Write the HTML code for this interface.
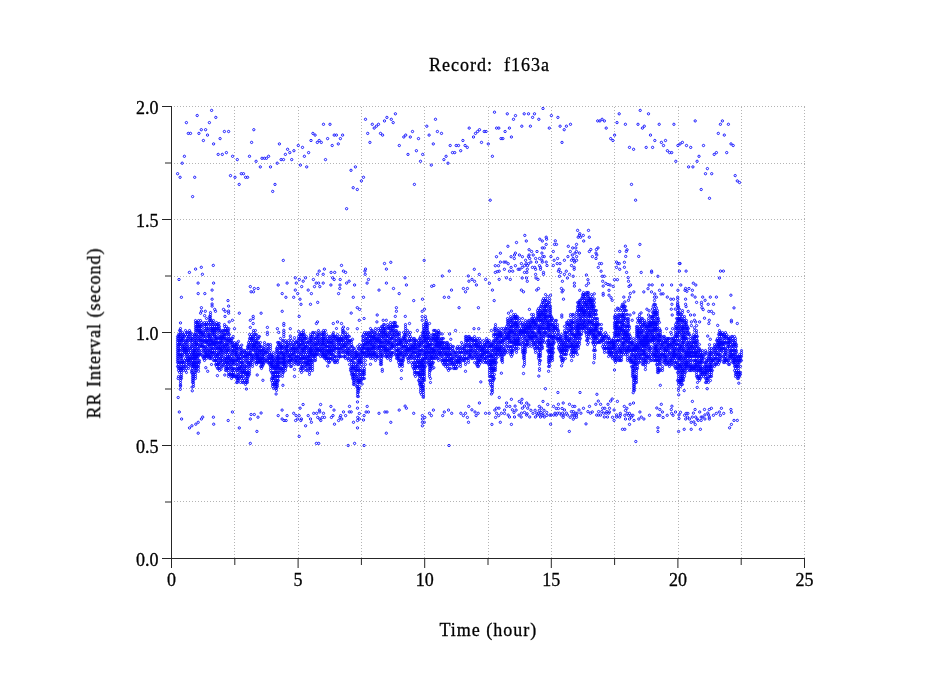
<!DOCTYPE html>
<html><head><meta charset="utf-8"><style>
html,body{margin:0;padding:0;background:#fff;width:949px;height:697px;overflow:hidden}
svg{display:block}
</style></head><body>
<svg width="949" height="697" viewBox="0 0 949 697" shape-rendering="crispEdges">
<rect width="949" height="697" fill="#fff"/>
<defs><pattern id="pv" patternUnits="userSpaceOnUse" x="0" y="2" width="1" height="3"><rect width="1" height="1" fill="#b4b4b4"/></pattern><pattern id="ph" patternUnits="userSpaceOnUse" x="0" y="0" width="3" height="1"><rect width="1" height="1" fill="#b4b4b4"/></pattern></defs><rect x="234" y="107" width="1" height="451" fill="url(#pv)"/><rect x="298" y="107" width="1" height="451" fill="url(#pv)"/><rect x="361" y="107" width="1" height="451" fill="url(#pv)"/><rect x="424" y="107" width="1" height="451" fill="url(#pv)"/><rect x="488" y="107" width="1" height="451" fill="url(#pv)"/><rect x="551" y="107" width="1" height="451" fill="url(#pv)"/><rect x="614" y="107" width="1" height="451" fill="url(#pv)"/><rect x="678" y="107" width="1" height="451" fill="url(#pv)"/><rect x="741" y="107" width="1" height="451" fill="url(#pv)"/><rect x="804" y="107" width="1" height="451" fill="url(#pv)"/><rect x="174" y="501" width="632" height="1" fill="url(#ph)"/><rect x="174" y="445" width="632" height="1" fill="url(#ph)"/><rect x="174" y="388" width="632" height="1" fill="url(#ph)"/><rect x="174" y="332" width="632" height="1" fill="url(#ph)"/><rect x="174" y="276" width="632" height="1" fill="url(#ph)"/><rect x="174" y="219" width="632" height="1" fill="url(#ph)"/><rect x="174" y="163" width="632" height="1" fill="url(#ph)"/><rect x="174" y="106" width="632" height="1" fill="url(#ph)"/>
<g fill="#262626"><rect x="171" y="106" width="1" height="462"/><rect x="162" y="558" width="643" height="1"/></g><path shape-rendering="auto" stroke="#262626" stroke-width="1" fill="none" d="M234.80 559v6M298.10 559v9M361.40 559v6M424.70 559v9M488.00 559v6M551.30 559v9M614.60 559v6M677.90 559v9M741.20 559v6M804.50 559v9M171 502.00h-6M171 445.50h-9M171 389.00h-6M171 332.50h-9M171 276.00h-6M171 219.50h-9M171 163.00h-6M171 106.50h-9"/>
<g shape-rendering="auto"><defs><marker id="m" markerUnits="userSpaceOnUse" markerWidth="8" markerHeight="8" refX="4" refY="4" overflow="visible"><circle cx="4" cy="4" r="1.15" fill="none" stroke="#1a1aff" stroke-width="1.0"/></marker><marker id="q" markerUnits="userSpaceOnUse" markerWidth="8" markerHeight="8" refX="4" refY="4" overflow="visible"><circle cx="4" cy="4" r="1.05" fill="none" stroke="#0000ff" stroke-width="0.9"/></marker></defs><path fill="none" stroke="none" marker-start="url(#q)" marker-mid="url(#q)" marker-end="url(#q)" d="M177.5 336.5 177.5 338.5 177.5 340.5 177.5 342.5 177.5 344.5 177.5 346.5 177.5 348.5 177.5 350.5 177.5 352.5 177.5 354.5 177.5 356.5 177.5 358.5 177.5 360.5 177.5 362.5 177.5 366.5 178.5 334.5 178.5 336.5 178.5 338.5 178.5 340.5 178.5 344.5 178.5 346.5 178.5 348.5 178.5 350.5 178.5 352.5 178.5 354.5 178.5 356.5 178.5 358.5 178.5 360.5 178.5 362.5 178.5 364.5 178.5 366.5 178.5 368.5 178.5 370.5 178.5 376.5 179.5 330.5 179.5 334.5 179.5 336.5 179.5 340.5 179.5 342.5 179.5 344.5 179.5 350.5 179.5 354.5 179.5 362.5 179.5 368.5 179.5 372.5 180.5 328.5 180.5 330.5 180.5 332.5 180.5 334.5 180.5 336.5 180.5 338.5 180.5 340.5 180.5 342.5 180.5 344.5 180.5 346.5 180.5 348.5 180.5 350.5 180.5 354.5 180.5 356.5 180.5 358.5 180.5 362.5 180.5 366.5 180.5 368.5 180.5 370.5 180.5 376.5 180.5 378.5 180.5 380.5 180.5 382.5 180.5 384.5 180.5 386.5 181.5 338.5 181.5 340.5 181.5 344.5 181.5 354.5 181.5 356.5 181.5 358.5 181.5 360.5 181.5 362.5 181.5 364.5 181.5 366.5 181.5 368.5 181.5 370.5 181.5 372.5 181.5 374.5 181.5 376.5 181.5 378.5 182.5 332.5 182.5 334.5 182.5 336.5 182.5 338.5 182.5 340.5 182.5 346.5 182.5 348.5 182.5 350.5 182.5 352.5 182.5 354.5 182.5 356.5 182.5 360.5 182.5 362.5 182.5 368.5 183.5 334.5 183.5 336.5 183.5 338.5 183.5 340.5 183.5 342.5 183.5 344.5 183.5 346.5 183.5 348.5 183.5 350.5 183.5 362.5 183.5 364.5 183.5 366.5 183.5 368.5 183.5 370.5 184.5 336.5 184.5 344.5 184.5 346.5 184.5 348.5 184.5 350.5 184.5 352.5 184.5 354.5 184.5 360.5 184.5 362.5 184.5 366.5 185.5 330.5 185.5 334.5 185.5 340.5 185.5 342.5 185.5 348.5 185.5 350.5 185.5 352.5 185.5 358.5 185.5 366.5 185.5 370.5 186.5 332.5 186.5 336.5 186.5 340.5 186.5 342.5 186.5 344.5 186.5 346.5 186.5 348.5 186.5 350.5 186.5 352.5 186.5 354.5 186.5 356.5 186.5 360.5 186.5 362.5 186.5 364.5 186.5 368.5 186.5 372.5 187.5 332.5 187.5 334.5 187.5 338.5 187.5 340.5 187.5 344.5 187.5 346.5 187.5 348.5 187.5 350.5 187.5 354.5 187.5 356.5 187.5 358.5 187.5 360.5 188.5 336.5 188.5 338.5 188.5 340.5 188.5 350.5 188.5 352.5 188.5 358.5 188.5 360.5 188.5 362.5 188.5 364.5 188.5 366.5 188.5 368.5 189.5 330.5 189.5 332.5 189.5 334.5 189.5 336.5 189.5 342.5 189.5 346.5 189.5 348.5 189.5 354.5 189.5 356.5 189.5 358.5 189.5 360.5 189.5 362.5 189.5 364.5 190.5 332.5 190.5 334.5 190.5 338.5 190.5 340.5 190.5 348.5 190.5 350.5 190.5 352.5 190.5 356.5 190.5 358.5 190.5 360.5 191.5 338.5 191.5 340.5 191.5 344.5 191.5 346.5 191.5 354.5 191.5 358.5 191.5 362.5 191.5 364.5 191.5 366.5 191.5 370.5 191.5 372.5 192.5 334.5 192.5 336.5 192.5 338.5 192.5 340.5 192.5 342.5 192.5 344.5 192.5 346.5 192.5 348.5 192.5 350.5 192.5 352.5 192.5 354.5 192.5 356.5 192.5 358.5 192.5 360.5 192.5 362.5 192.5 364.5 192.5 366.5 192.5 368.5 192.5 370.5 192.5 372.5 192.5 374.5 192.5 376.5 192.5 378.5 192.5 380.5 192.5 382.5 193.5 350.5 193.5 352.5 193.5 354.5 193.5 356.5 193.5 358.5 193.5 362.5 193.5 364.5 193.5 366.5 193.5 374.5 193.5 376.5 193.5 378.5 193.5 380.5 193.5 382.5 193.5 384.5 193.5 386.5 194.5 334.5 194.5 336.5 194.5 338.5 194.5 340.5 194.5 342.5 194.5 344.5 194.5 346.5 194.5 348.5 194.5 350.5 194.5 352.5 194.5 354.5 194.5 356.5 194.5 358.5 194.5 360.5 194.5 362.5 194.5 364.5 194.5 366.5 194.5 368.5 194.5 372.5 195.5 320.5 195.5 322.5 195.5 324.5 195.5 326.5 195.5 328.5 195.5 330.5 195.5 332.5 195.5 334.5 195.5 336.5 195.5 338.5 195.5 340.5 195.5 342.5 195.5 344.5 195.5 346.5 195.5 348.5 195.5 350.5 195.5 352.5 195.5 354.5 195.5 356.5 195.5 358.5 195.5 360.5 195.5 362.5 195.5 364.5 195.5 366.5 195.5 368.5 195.5 370.5 195.5 372.5 195.5 374.5 195.5 376.5 195.5 378.5 196.5 322.5 196.5 326.5 196.5 328.5 196.5 330.5 196.5 334.5 196.5 340.5 196.5 342.5 196.5 344.5 196.5 350.5 196.5 354.5 196.5 356.5 196.5 358.5 196.5 362.5 196.5 364.5 196.5 366.5 196.5 368.5 196.5 370.5 197.5 322.5 197.5 324.5 197.5 326.5 197.5 330.5 197.5 336.5 197.5 338.5 197.5 344.5 197.5 346.5 197.5 348.5 197.5 352.5 197.5 354.5 197.5 356.5 197.5 358.5 197.5 362.5 197.5 366.5 198.5 320.5 198.5 322.5 198.5 324.5 198.5 326.5 198.5 328.5 198.5 330.5 198.5 332.5 198.5 334.5 198.5 336.5 198.5 338.5 198.5 340.5 198.5 342.5 198.5 344.5 198.5 348.5 198.5 350.5 198.5 352.5 198.5 354.5 198.5 356.5 198.5 360.5 198.5 362.5 198.5 364.5 198.5 366.5 198.5 368.5 199.5 324.5 199.5 326.5 199.5 328.5 199.5 330.5 199.5 332.5 199.5 340.5 199.5 346.5 199.5 350.5 199.5 354.5 199.5 360.5 199.5 362.5 200.5 320.5 200.5 326.5 200.5 330.5 200.5 332.5 200.5 334.5 200.5 336.5 200.5 338.5 200.5 340.5 200.5 344.5 200.5 346.5 200.5 354.5 201.5 322.5 201.5 324.5 201.5 326.5 201.5 328.5 201.5 330.5 201.5 332.5 201.5 334.5 201.5 336.5 201.5 338.5 201.5 340.5 201.5 342.5 201.5 344.5 201.5 346.5 201.5 350.5 201.5 352.5 201.5 354.5 202.5 324.5 202.5 332.5 202.5 334.5 202.5 340.5 202.5 342.5 202.5 344.5 202.5 346.5 202.5 356.5 203.5 332.5 203.5 334.5 203.5 336.5 203.5 340.5 203.5 346.5 203.5 348.5 203.5 350.5 203.5 356.5 203.5 358.5 204.5 322.5 204.5 324.5 204.5 326.5 204.5 328.5 204.5 330.5 204.5 334.5 204.5 336.5 204.5 338.5 204.5 340.5 204.5 342.5 204.5 346.5 204.5 348.5 204.5 350.5 204.5 352.5 204.5 354.5 204.5 356.5 204.5 358.5 204.5 360.5 205.5 324.5 205.5 330.5 205.5 332.5 205.5 336.5 205.5 340.5 205.5 342.5 205.5 346.5 205.5 350.5 205.5 352.5 205.5 354.5 205.5 356.5 206.5 318.5 206.5 322.5 206.5 324.5 206.5 326.5 206.5 328.5 206.5 340.5 206.5 342.5 206.5 348.5 206.5 352.5 206.5 354.5 206.5 356.5 206.5 358.5 207.5 324.5 207.5 328.5 207.5 330.5 207.5 332.5 207.5 334.5 207.5 336.5 207.5 338.5 207.5 340.5 207.5 342.5 207.5 344.5 207.5 346.5 207.5 348.5 207.5 350.5 207.5 352.5 207.5 354.5 207.5 356.5 208.5 322.5 208.5 328.5 208.5 330.5 208.5 334.5 208.5 336.5 208.5 340.5 208.5 342.5 208.5 344.5 208.5 350.5 208.5 354.5 208.5 356.5 209.5 316.5 209.5 318.5 209.5 320.5 209.5 324.5 209.5 334.5 209.5 336.5 209.5 338.5 209.5 340.5 209.5 344.5 209.5 346.5 209.5 350.5 209.5 352.5 209.5 354.5 209.5 356.5 209.5 358.5 210.5 312.5 210.5 314.5 210.5 316.5 210.5 318.5 210.5 320.5 210.5 322.5 210.5 324.5 210.5 326.5 210.5 328.5 210.5 330.5 210.5 332.5 210.5 334.5 210.5 336.5 210.5 338.5 210.5 340.5 210.5 342.5 210.5 344.5 210.5 346.5 210.5 348.5 210.5 350.5 210.5 352.5 210.5 354.5 210.5 356.5 210.5 358.5 211.5 320.5 211.5 328.5 211.5 330.5 211.5 338.5 211.5 340.5 211.5 342.5 211.5 344.5 211.5 348.5 211.5 352.5 211.5 356.5 211.5 358.5 211.5 364.5 212.5 322.5 212.5 324.5 212.5 326.5 212.5 328.5 212.5 330.5 212.5 332.5 212.5 334.5 212.5 336.5 212.5 340.5 212.5 342.5 212.5 344.5 212.5 348.5 212.5 350.5 212.5 352.5 212.5 354.5 213.5 320.5 213.5 322.5 213.5 324.5 213.5 328.5 213.5 330.5 213.5 332.5 213.5 334.5 213.5 340.5 213.5 342.5 213.5 344.5 213.5 346.5 213.5 348.5 213.5 352.5 213.5 354.5 213.5 356.5 213.5 360.5 214.5 326.5 214.5 328.5 214.5 330.5 214.5 332.5 214.5 334.5 214.5 336.5 214.5 338.5 214.5 342.5 214.5 344.5 214.5 350.5 214.5 352.5 214.5 358.5 214.5 360.5 215.5 324.5 215.5 328.5 215.5 330.5 215.5 336.5 215.5 338.5 215.5 340.5 215.5 342.5 215.5 344.5 215.5 346.5 215.5 348.5 215.5 354.5 215.5 356.5 215.5 360.5 215.5 364.5 216.5 322.5 216.5 324.5 216.5 326.5 216.5 328.5 216.5 330.5 216.5 332.5 216.5 334.5 216.5 336.5 216.5 338.5 216.5 340.5 216.5 342.5 216.5 344.5 216.5 346.5 216.5 348.5 216.5 350.5 216.5 352.5 216.5 354.5 216.5 356.5 216.5 358.5 216.5 360.5 216.5 362.5 216.5 364.5 216.5 366.5 217.5 324.5 217.5 328.5 217.5 338.5 217.5 342.5 217.5 348.5 217.5 354.5 217.5 356.5 217.5 360.5 217.5 364.5 217.5 368.5 218.5 324.5 218.5 326.5 218.5 328.5 218.5 330.5 218.5 338.5 218.5 342.5 218.5 344.5 218.5 346.5 218.5 348.5 218.5 352.5 218.5 354.5 218.5 358.5 218.5 362.5 218.5 364.5 218.5 368.5 219.5 326.5 219.5 328.5 219.5 330.5 219.5 332.5 219.5 334.5 219.5 336.5 219.5 338.5 219.5 342.5 219.5 344.5 219.5 346.5 219.5 348.5 219.5 350.5 219.5 352.5 219.5 354.5 219.5 356.5 219.5 358.5 219.5 362.5 219.5 364.5 219.5 366.5 219.5 368.5 219.5 370.5 220.5 330.5 220.5 336.5 220.5 338.5 220.5 340.5 220.5 342.5 220.5 346.5 220.5 348.5 220.5 350.5 220.5 352.5 220.5 358.5 220.5 360.5 220.5 362.5 221.5 332.5 221.5 336.5 221.5 338.5 221.5 340.5 221.5 342.5 221.5 344.5 221.5 348.5 221.5 350.5 221.5 354.5 221.5 356.5 221.5 360.5 221.5 366.5 222.5 330.5 222.5 332.5 222.5 334.5 222.5 336.5 222.5 338.5 222.5 340.5 222.5 342.5 222.5 344.5 222.5 346.5 222.5 348.5 222.5 350.5 222.5 352.5 222.5 354.5 222.5 356.5 222.5 358.5 222.5 360.5 222.5 362.5 222.5 364.5 222.5 366.5 223.5 330.5 223.5 334.5 223.5 336.5 223.5 338.5 223.5 346.5 223.5 350.5 223.5 352.5 223.5 364.5 224.5 324.5 224.5 326.5 224.5 330.5 224.5 334.5 224.5 336.5 224.5 338.5 224.5 342.5 224.5 344.5 224.5 346.5 224.5 348.5 224.5 358.5 224.5 360.5 224.5 362.5 225.5 328.5 225.5 330.5 225.5 332.5 225.5 334.5 225.5 338.5 225.5 340.5 225.5 344.5 225.5 346.5 225.5 348.5 225.5 350.5 225.5 352.5 225.5 354.5 225.5 356.5 225.5 358.5 225.5 360.5 225.5 362.5 225.5 364.5 225.5 366.5 225.5 368.5 225.5 370.5 226.5 326.5 226.5 330.5 226.5 334.5 226.5 338.5 226.5 340.5 226.5 344.5 226.5 348.5 226.5 350.5 226.5 352.5 226.5 358.5 226.5 360.5 226.5 362.5 226.5 366.5 226.5 368.5 226.5 370.5 227.5 328.5 227.5 330.5 227.5 332.5 227.5 340.5 227.5 342.5 227.5 344.5 227.5 346.5 227.5 350.5 227.5 354.5 227.5 356.5 227.5 358.5 227.5 362.5 227.5 364.5 227.5 368.5 228.5 330.5 228.5 332.5 228.5 334.5 228.5 336.5 228.5 338.5 228.5 340.5 228.5 342.5 228.5 344.5 228.5 346.5 228.5 348.5 228.5 350.5 228.5 352.5 228.5 356.5 228.5 358.5 228.5 360.5 228.5 362.5 228.5 364.5 228.5 366.5 228.5 368.5 228.5 370.5 228.5 372.5 228.5 374.5 228.5 376.5 229.5 334.5 229.5 338.5 229.5 340.5 229.5 348.5 229.5 350.5 229.5 354.5 229.5 356.5 229.5 358.5 229.5 360.5 229.5 362.5 229.5 368.5 229.5 374.5 230.5 340.5 230.5 342.5 230.5 358.5 230.5 360.5 230.5 364.5 230.5 366.5 230.5 374.5 231.5 338.5 231.5 340.5 231.5 342.5 231.5 344.5 231.5 346.5 231.5 350.5 231.5 352.5 231.5 354.5 231.5 356.5 231.5 360.5 231.5 362.5 231.5 364.5 231.5 366.5 231.5 368.5 231.5 370.5 231.5 372.5 231.5 374.5 231.5 376.5 231.5 378.5 232.5 338.5 232.5 342.5 232.5 344.5 232.5 346.5 232.5 348.5 232.5 350.5 232.5 352.5 232.5 354.5 232.5 358.5 232.5 360.5 232.5 362.5 232.5 368.5 232.5 370.5 232.5 374.5 232.5 376.5 233.5 346.5 233.5 350.5 233.5 358.5 233.5 360.5 233.5 362.5 233.5 364.5 233.5 368.5 233.5 372.5 233.5 374.5 233.5 376.5 234.5 342.5 234.5 344.5 234.5 346.5 234.5 348.5 234.5 350.5 234.5 352.5 234.5 354.5 234.5 356.5 234.5 360.5 234.5 362.5 234.5 364.5 234.5 368.5 234.5 370.5 234.5 374.5 234.5 376.5 235.5 344.5 235.5 346.5 235.5 348.5 235.5 352.5 235.5 354.5 235.5 360.5 235.5 376.5 236.5 344.5 236.5 346.5 236.5 348.5 236.5 350.5 236.5 352.5 236.5 354.5 236.5 356.5 236.5 358.5 236.5 360.5 236.5 364.5 236.5 368.5 236.5 370.5 236.5 376.5 236.5 378.5 236.5 382.5 237.5 342.5 237.5 344.5 237.5 348.5 237.5 350.5 237.5 352.5 237.5 354.5 237.5 356.5 237.5 358.5 237.5 360.5 237.5 362.5 237.5 364.5 237.5 366.5 237.5 368.5 237.5 370.5 237.5 372.5 237.5 374.5 237.5 376.5 237.5 378.5 237.5 380.5 237.5 382.5 238.5 346.5 238.5 348.5 238.5 356.5 238.5 358.5 238.5 360.5 238.5 368.5 238.5 374.5 238.5 376.5 238.5 378.5 238.5 380.5 239.5 354.5 239.5 358.5 239.5 362.5 239.5 366.5 239.5 368.5 239.5 370.5 239.5 378.5 240.5 346.5 240.5 348.5 240.5 350.5 240.5 352.5 240.5 354.5 240.5 356.5 240.5 358.5 240.5 360.5 240.5 362.5 240.5 364.5 240.5 366.5 240.5 368.5 240.5 370.5 240.5 372.5 240.5 374.5 240.5 376.5 240.5 382.5 241.5 348.5 241.5 350.5 241.5 352.5 241.5 354.5 241.5 358.5 241.5 362.5 241.5 366.5 241.5 368.5 241.5 372.5 241.5 376.5 241.5 378.5 242.5 352.5 242.5 356.5 242.5 362.5 242.5 364.5 242.5 366.5 242.5 370.5 242.5 372.5 242.5 376.5 242.5 380.5 242.5 382.5 243.5 350.5 243.5 354.5 243.5 356.5 243.5 358.5 243.5 360.5 243.5 362.5 243.5 364.5 243.5 368.5 243.5 370.5 243.5 372.5 243.5 374.5 243.5 378.5 243.5 382.5 244.5 350.5 244.5 352.5 244.5 356.5 244.5 366.5 244.5 368.5 244.5 370.5 244.5 372.5 244.5 380.5 245.5 352.5 245.5 354.5 245.5 356.5 245.5 360.5 245.5 366.5 245.5 372.5 245.5 374.5 245.5 376.5 245.5 382.5 245.5 384.5 246.5 350.5 246.5 352.5 246.5 354.5 246.5 356.5 246.5 358.5 246.5 360.5 246.5 362.5 246.5 364.5 246.5 366.5 246.5 368.5 246.5 370.5 246.5 372.5 246.5 374.5 246.5 378.5 246.5 380.5 246.5 382.5 247.5 346.5 247.5 348.5 247.5 354.5 247.5 356.5 247.5 358.5 247.5 362.5 247.5 372.5 247.5 374.5 247.5 376.5 247.5 378.5 247.5 380.5 247.5 382.5 248.5 342.5 248.5 344.5 248.5 346.5 248.5 348.5 248.5 352.5 248.5 354.5 248.5 362.5 248.5 364.5 248.5 366.5 248.5 372.5 248.5 374.5 248.5 376.5 249.5 334.5 249.5 338.5 249.5 340.5 249.5 344.5 249.5 346.5 249.5 348.5 249.5 352.5 249.5 354.5 249.5 356.5 249.5 358.5 249.5 360.5 249.5 362.5 249.5 364.5 249.5 366.5 249.5 368.5 249.5 370.5 249.5 372.5 249.5 374.5 250.5 336.5 250.5 338.5 250.5 342.5 250.5 350.5 250.5 352.5 250.5 354.5 250.5 362.5 250.5 364.5 251.5 334.5 251.5 338.5 251.5 340.5 251.5 344.5 251.5 346.5 251.5 348.5 251.5 350.5 251.5 354.5 251.5 356.5 251.5 358.5 251.5 360.5 252.5 336.5 252.5 338.5 252.5 340.5 252.5 342.5 252.5 344.5 252.5 346.5 252.5 348.5 252.5 354.5 252.5 356.5 252.5 358.5 252.5 360.5 252.5 362.5 252.5 364.5 252.5 366.5 253.5 330.5 253.5 332.5 253.5 336.5 253.5 338.5 253.5 340.5 253.5 344.5 253.5 346.5 253.5 348.5 253.5 350.5 253.5 356.5 253.5 358.5 254.5 334.5 254.5 342.5 254.5 344.5 254.5 346.5 254.5 350.5 254.5 354.5 255.5 330.5 255.5 334.5 255.5 336.5 255.5 338.5 255.5 340.5 255.5 342.5 255.5 344.5 255.5 346.5 255.5 348.5 255.5 350.5 255.5 352.5 255.5 354.5 255.5 356.5 255.5 358.5 255.5 360.5 255.5 362.5 256.5 334.5 256.5 340.5 256.5 342.5 256.5 344.5 256.5 346.5 256.5 348.5 256.5 352.5 256.5 354.5 256.5 356.5 256.5 358.5 256.5 362.5 256.5 364.5 257.5 338.5 257.5 342.5 257.5 348.5 257.5 350.5 257.5 352.5 257.5 354.5 257.5 356.5 257.5 358.5 257.5 360.5 257.5 362.5 258.5 336.5 258.5 338.5 258.5 342.5 258.5 344.5 258.5 346.5 258.5 348.5 258.5 350.5 258.5 354.5 258.5 356.5 258.5 358.5 258.5 360.5 258.5 362.5 259.5 336.5 259.5 344.5 259.5 346.5 259.5 350.5 259.5 352.5 259.5 354.5 259.5 356.5 259.5 358.5 259.5 360.5 259.5 362.5 260.5 342.5 260.5 346.5 260.5 350.5 260.5 352.5 260.5 358.5 260.5 360.5 260.5 362.5 260.5 366.5 261.5 346.5 261.5 348.5 261.5 350.5 261.5 352.5 261.5 354.5 261.5 356.5 261.5 358.5 261.5 360.5 261.5 362.5 261.5 364.5 261.5 366.5 261.5 368.5 262.5 350.5 262.5 354.5 262.5 356.5 262.5 358.5 262.5 360.5 262.5 362.5 262.5 364.5 262.5 366.5 263.5 348.5 263.5 350.5 263.5 352.5 263.5 354.5 263.5 358.5 263.5 362.5 263.5 364.5 264.5 342.5 264.5 344.5 264.5 346.5 264.5 348.5 264.5 350.5 264.5 352.5 264.5 354.5 264.5 356.5 264.5 358.5 264.5 360.5 264.5 362.5 265.5 352.5 265.5 360.5 266.5 350.5 266.5 352.5 266.5 360.5 267.5 344.5 267.5 346.5 267.5 348.5 267.5 350.5 267.5 352.5 267.5 354.5 267.5 356.5 267.5 358.5 267.5 360.5 267.5 362.5 268.5 344.5 268.5 348.5 268.5 356.5 268.5 358.5 268.5 362.5 269.5 352.5 269.5 354.5 269.5 358.5 269.5 360.5 269.5 362.5 269.5 364.5 270.5 344.5 270.5 346.5 270.5 348.5 270.5 350.5 270.5 354.5 270.5 356.5 270.5 358.5 270.5 362.5 270.5 364.5 270.5 366.5 270.5 368.5 270.5 370.5 271.5 354.5 271.5 356.5 271.5 358.5 271.5 360.5 271.5 362.5 271.5 364.5 271.5 366.5 271.5 372.5 271.5 378.5 271.5 380.5 272.5 356.5 272.5 358.5 272.5 360.5 272.5 362.5 272.5 364.5 272.5 366.5 272.5 368.5 272.5 372.5 272.5 374.5 272.5 376.5 272.5 378.5 272.5 382.5 272.5 384.5 272.5 386.5 273.5 352.5 273.5 354.5 273.5 356.5 273.5 358.5 273.5 360.5 273.5 362.5 273.5 364.5 273.5 366.5 273.5 368.5 273.5 372.5 273.5 374.5 273.5 376.5 273.5 378.5 273.5 380.5 273.5 384.5 273.5 388.5 274.5 360.5 274.5 366.5 274.5 368.5 274.5 372.5 274.5 376.5 274.5 378.5 274.5 382.5 274.5 384.5 275.5 358.5 275.5 362.5 275.5 364.5 275.5 366.5 275.5 368.5 275.5 370.5 275.5 372.5 275.5 374.5 275.5 376.5 275.5 380.5 275.5 382.5 275.5 384.5 275.5 386.5 275.5 388.5 276.5 348.5 276.5 350.5 276.5 352.5 276.5 354.5 276.5 356.5 276.5 358.5 276.5 360.5 276.5 362.5 276.5 364.5 276.5 366.5 276.5 368.5 276.5 370.5 276.5 372.5 276.5 376.5 276.5 380.5 276.5 382.5 276.5 384.5 276.5 386.5 276.5 388.5 276.5 390.5 277.5 342.5 277.5 346.5 277.5 348.5 277.5 350.5 277.5 352.5 277.5 356.5 277.5 358.5 277.5 360.5 277.5 362.5 277.5 364.5 277.5 366.5 277.5 368.5 277.5 372.5 277.5 374.5 277.5 376.5 277.5 378.5 277.5 380.5 277.5 382.5 277.5 384.5 277.5 386.5 278.5 342.5 278.5 344.5 278.5 354.5 278.5 356.5 278.5 358.5 278.5 360.5 278.5 362.5 278.5 364.5 278.5 366.5 278.5 368.5 278.5 372.5 278.5 376.5 278.5 380.5 279.5 342.5 279.5 344.5 279.5 346.5 279.5 348.5 279.5 350.5 279.5 352.5 279.5 354.5 279.5 356.5 279.5 358.5 279.5 360.5 279.5 362.5 279.5 364.5 279.5 366.5 279.5 368.5 279.5 370.5 279.5 372.5 279.5 374.5 279.5 376.5 280.5 338.5 280.5 344.5 280.5 346.5 280.5 348.5 280.5 352.5 280.5 358.5 280.5 362.5 280.5 368.5 280.5 370.5 281.5 346.5 281.5 348.5 281.5 352.5 281.5 354.5 281.5 358.5 281.5 362.5 281.5 368.5 282.5 340.5 282.5 342.5 282.5 344.5 282.5 346.5 282.5 348.5 282.5 350.5 282.5 352.5 282.5 354.5 282.5 356.5 282.5 358.5 282.5 360.5 282.5 362.5 282.5 364.5 282.5 366.5 282.5 368.5 282.5 370.5 282.5 372.5 282.5 374.5 282.5 376.5 283.5 340.5 283.5 346.5 283.5 352.5 283.5 354.5 283.5 356.5 283.5 358.5 283.5 360.5 283.5 362.5 283.5 364.5 283.5 368.5 283.5 370.5 283.5 372.5 284.5 348.5 284.5 354.5 284.5 356.5 284.5 358.5 284.5 360.5 284.5 362.5 284.5 364.5 284.5 366.5 285.5 340.5 285.5 342.5 285.5 344.5 285.5 346.5 285.5 348.5 285.5 350.5 285.5 352.5 285.5 354.5 285.5 356.5 285.5 358.5 285.5 360.5 285.5 362.5 285.5 364.5 285.5 366.5 285.5 368.5 285.5 370.5 286.5 342.5 286.5 346.5 286.5 348.5 286.5 350.5 286.5 352.5 286.5 362.5 286.5 366.5 287.5 344.5 287.5 346.5 287.5 350.5 287.5 352.5 287.5 354.5 287.5 356.5 287.5 360.5 288.5 340.5 288.5 342.5 288.5 344.5 288.5 346.5 288.5 348.5 288.5 350.5 288.5 354.5 288.5 356.5 288.5 358.5 288.5 360.5 288.5 362.5 288.5 364.5 289.5 352.5 289.5 356.5 289.5 360.5 289.5 362.5 290.5 338.5 290.5 342.5 290.5 344.5 290.5 348.5 290.5 350.5 290.5 354.5 290.5 356.5 290.5 358.5 290.5 360.5 290.5 366.5 291.5 340.5 291.5 344.5 291.5 346.5 291.5 348.5 291.5 350.5 291.5 352.5 291.5 354.5 291.5 356.5 291.5 358.5 291.5 360.5 291.5 362.5 291.5 364.5 291.5 366.5 292.5 348.5 292.5 354.5 292.5 358.5 292.5 360.5 293.5 342.5 293.5 344.5 293.5 346.5 293.5 348.5 293.5 350.5 293.5 352.5 293.5 354.5 293.5 358.5 294.5 340.5 294.5 344.5 294.5 346.5 294.5 348.5 294.5 350.5 294.5 352.5 294.5 354.5 294.5 356.5 294.5 360.5 294.5 362.5 294.5 364.5 295.5 342.5 295.5 348.5 295.5 350.5 295.5 352.5 295.5 356.5 295.5 358.5 295.5 360.5 295.5 362.5 296.5 342.5 296.5 344.5 296.5 348.5 296.5 356.5 296.5 358.5 296.5 360.5 297.5 340.5 297.5 342.5 297.5 346.5 297.5 348.5 297.5 350.5 297.5 352.5 297.5 356.5 297.5 360.5 297.5 362.5 297.5 364.5 298.5 336.5 298.5 338.5 298.5 340.5 298.5 342.5 298.5 344.5 298.5 346.5 298.5 348.5 298.5 350.5 298.5 352.5 298.5 354.5 298.5 356.5 298.5 358.5 298.5 362.5 298.5 364.5 299.5 334.5 299.5 338.5 299.5 344.5 299.5 346.5 299.5 358.5 299.5 360.5 300.5 334.5 300.5 336.5 300.5 338.5 300.5 340.5 300.5 342.5 300.5 344.5 300.5 346.5 300.5 348.5 300.5 352.5 300.5 354.5 300.5 356.5 300.5 358.5 300.5 360.5 300.5 362.5 300.5 364.5 300.5 368.5 300.5 370.5 301.5 332.5 301.5 334.5 301.5 336.5 301.5 340.5 301.5 344.5 301.5 348.5 301.5 350.5 301.5 352.5 301.5 354.5 301.5 358.5 301.5 362.5 301.5 366.5 301.5 368.5 301.5 372.5 302.5 334.5 302.5 338.5 302.5 340.5 302.5 342.5 302.5 344.5 302.5 348.5 302.5 350.5 302.5 356.5 302.5 358.5 302.5 364.5 302.5 366.5 302.5 368.5 303.5 330.5 303.5 332.5 303.5 334.5 303.5 336.5 303.5 338.5 303.5 340.5 303.5 342.5 303.5 344.5 303.5 346.5 303.5 348.5 303.5 350.5 303.5 352.5 303.5 354.5 303.5 356.5 303.5 358.5 303.5 360.5 303.5 362.5 303.5 366.5 303.5 370.5 304.5 334.5 304.5 336.5 304.5 338.5 304.5 342.5 304.5 346.5 304.5 348.5 304.5 350.5 304.5 352.5 304.5 356.5 304.5 358.5 304.5 362.5 305.5 338.5 305.5 344.5 305.5 346.5 305.5 348.5 305.5 354.5 305.5 358.5 305.5 362.5 305.5 364.5 305.5 366.5 305.5 368.5 306.5 336.5 306.5 338.5 306.5 340.5 306.5 342.5 306.5 346.5 306.5 348.5 306.5 350.5 306.5 352.5 306.5 356.5 306.5 358.5 306.5 360.5 306.5 362.5 306.5 364.5 306.5 366.5 306.5 370.5 307.5 342.5 307.5 344.5 307.5 346.5 307.5 354.5 307.5 356.5 307.5 358.5 307.5 360.5 307.5 362.5 307.5 364.5 307.5 370.5 308.5 342.5 308.5 348.5 308.5 350.5 308.5 352.5 308.5 356.5 308.5 360.5 308.5 362.5 308.5 364.5 308.5 368.5 309.5 338.5 309.5 340.5 309.5 342.5 309.5 346.5 309.5 348.5 309.5 350.5 309.5 352.5 309.5 354.5 309.5 356.5 309.5 358.5 309.5 360.5 309.5 362.5 309.5 364.5 309.5 366.5 309.5 368.5 309.5 372.5 309.5 374.5 310.5 334.5 310.5 336.5 310.5 338.5 310.5 340.5 310.5 344.5 310.5 348.5 310.5 350.5 310.5 352.5 310.5 354.5 310.5 356.5 310.5 358.5 310.5 360.5 310.5 364.5 310.5 366.5 310.5 368.5 310.5 370.5 311.5 336.5 311.5 338.5 311.5 340.5 311.5 342.5 311.5 344.5 311.5 346.5 311.5 348.5 311.5 350.5 311.5 352.5 311.5 354.5 311.5 360.5 311.5 362.5 312.5 332.5 312.5 334.5 312.5 336.5 312.5 340.5 312.5 342.5 312.5 346.5 312.5 348.5 312.5 350.5 312.5 352.5 312.5 354.5 312.5 356.5 312.5 358.5 312.5 360.5 312.5 362.5 312.5 364.5 312.5 366.5 312.5 368.5 312.5 370.5 313.5 332.5 313.5 338.5 313.5 344.5 313.5 350.5 313.5 354.5 313.5 356.5 314.5 334.5 314.5 338.5 314.5 342.5 314.5 344.5 314.5 346.5 314.5 348.5 314.5 352.5 314.5 354.5 314.5 356.5 314.5 360.5 315.5 332.5 315.5 338.5 315.5 340.5 315.5 342.5 315.5 344.5 315.5 346.5 315.5 348.5 315.5 350.5 315.5 352.5 315.5 354.5 315.5 356.5 315.5 358.5 315.5 360.5 316.5 336.5 316.5 338.5 316.5 344.5 316.5 348.5 316.5 350.5 316.5 352.5 316.5 354.5 317.5 334.5 317.5 336.5 317.5 340.5 317.5 342.5 317.5 344.5 317.5 348.5 317.5 350.5 317.5 354.5 318.5 330.5 318.5 332.5 318.5 334.5 318.5 336.5 318.5 338.5 318.5 340.5 318.5 342.5 318.5 344.5 318.5 346.5 318.5 348.5 318.5 350.5 318.5 354.5 319.5 334.5 319.5 338.5 319.5 340.5 319.5 342.5 319.5 348.5 319.5 350.5 319.5 352.5 320.5 344.5 320.5 346.5 320.5 350.5 320.5 356.5 321.5 332.5 321.5 334.5 321.5 336.5 321.5 338.5 321.5 340.5 321.5 342.5 321.5 344.5 321.5 346.5 321.5 348.5 321.5 350.5 321.5 352.5 321.5 354.5 322.5 334.5 322.5 338.5 322.5 340.5 322.5 342.5 322.5 344.5 322.5 348.5 322.5 350.5 322.5 352.5 322.5 354.5 322.5 356.5 323.5 330.5 323.5 332.5 323.5 334.5 323.5 336.5 323.5 338.5 323.5 340.5 323.5 342.5 323.5 344.5 323.5 348.5 323.5 352.5 323.5 354.5 323.5 356.5 324.5 332.5 324.5 334.5 324.5 336.5 324.5 338.5 324.5 340.5 324.5 342.5 324.5 344.5 324.5 346.5 324.5 348.5 324.5 350.5 324.5 352.5 324.5 354.5 324.5 356.5 324.5 358.5 325.5 330.5 325.5 338.5 325.5 344.5 325.5 346.5 325.5 350.5 325.5 354.5 325.5 356.5 325.5 358.5 326.5 334.5 326.5 340.5 326.5 342.5 326.5 346.5 326.5 350.5 326.5 352.5 326.5 354.5 326.5 356.5 326.5 358.5 326.5 360.5 327.5 336.5 327.5 338.5 327.5 340.5 327.5 342.5 327.5 344.5 327.5 346.5 327.5 348.5 327.5 350.5 327.5 352.5 327.5 354.5 327.5 356.5 327.5 358.5 328.5 340.5 328.5 342.5 328.5 346.5 328.5 350.5 328.5 352.5 328.5 358.5 328.5 360.5 328.5 362.5 329.5 336.5 329.5 338.5 329.5 342.5 329.5 346.5 329.5 348.5 329.5 350.5 329.5 352.5 329.5 354.5 329.5 358.5 329.5 362.5 330.5 336.5 330.5 338.5 330.5 340.5 330.5 342.5 330.5 344.5 330.5 346.5 330.5 348.5 330.5 350.5 330.5 352.5 330.5 354.5 330.5 356.5 330.5 358.5 330.5 360.5 331.5 340.5 331.5 342.5 331.5 344.5 331.5 348.5 331.5 350.5 331.5 352.5 331.5 354.5 331.5 358.5 332.5 334.5 332.5 336.5 332.5 338.5 332.5 342.5 332.5 346.5 332.5 350.5 332.5 354.5 332.5 358.5 333.5 332.5 333.5 334.5 333.5 336.5 333.5 338.5 333.5 340.5 333.5 342.5 333.5 344.5 333.5 346.5 333.5 348.5 333.5 350.5 333.5 352.5 333.5 354.5 333.5 356.5 333.5 360.5 334.5 336.5 334.5 340.5 334.5 344.5 334.5 346.5 334.5 348.5 334.5 350.5 334.5 356.5 334.5 358.5 334.5 360.5 334.5 362.5 335.5 336.5 335.5 338.5 335.5 348.5 335.5 356.5 335.5 362.5 336.5 328.5 336.5 336.5 336.5 338.5 336.5 340.5 336.5 342.5 336.5 344.5 336.5 346.5 336.5 348.5 336.5 352.5 336.5 356.5 336.5 360.5 337.5 334.5 337.5 338.5 337.5 340.5 337.5 348.5 337.5 360.5 337.5 362.5 338.5 338.5 338.5 340.5 338.5 342.5 338.5 344.5 338.5 348.5 338.5 350.5 338.5 352.5 338.5 354.5 338.5 356.5 338.5 358.5 339.5 336.5 339.5 338.5 339.5 340.5 339.5 342.5 339.5 344.5 339.5 346.5 339.5 348.5 339.5 350.5 339.5 352.5 339.5 354.5 339.5 356.5 340.5 338.5 340.5 340.5 340.5 344.5 340.5 348.5 340.5 352.5 340.5 356.5 341.5 336.5 341.5 338.5 341.5 340.5 341.5 342.5 341.5 346.5 341.5 348.5 341.5 356.5 342.5 328.5 342.5 330.5 342.5 332.5 342.5 334.5 342.5 338.5 342.5 340.5 342.5 344.5 342.5 346.5 342.5 348.5 342.5 350.5 342.5 352.5 343.5 330.5 343.5 332.5 343.5 338.5 343.5 340.5 343.5 342.5 343.5 344.5 343.5 346.5 343.5 350.5 343.5 352.5 343.5 356.5 344.5 336.5 344.5 344.5 344.5 346.5 344.5 356.5 345.5 332.5 345.5 334.5 345.5 336.5 345.5 338.5 345.5 340.5 345.5 342.5 345.5 344.5 345.5 346.5 345.5 348.5 345.5 350.5 345.5 352.5 345.5 354.5 345.5 356.5 345.5 358.5 346.5 336.5 346.5 338.5 346.5 342.5 346.5 346.5 346.5 350.5 346.5 352.5 347.5 334.5 347.5 338.5 347.5 340.5 347.5 344.5 347.5 348.5 347.5 352.5 347.5 354.5 347.5 358.5 348.5 336.5 348.5 340.5 348.5 342.5 348.5 344.5 348.5 348.5 348.5 350.5 348.5 352.5 348.5 354.5 348.5 358.5 348.5 360.5 349.5 336.5 349.5 340.5 349.5 342.5 349.5 348.5 349.5 350.5 349.5 352.5 349.5 354.5 349.5 356.5 349.5 364.5 350.5 340.5 350.5 346.5 350.5 360.5 350.5 368.5 350.5 370.5 351.5 340.5 351.5 342.5 351.5 344.5 351.5 346.5 351.5 350.5 351.5 352.5 351.5 354.5 351.5 356.5 351.5 358.5 351.5 360.5 351.5 362.5 351.5 364.5 351.5 366.5 351.5 368.5 351.5 370.5 351.5 372.5 351.5 374.5 352.5 346.5 352.5 350.5 352.5 352.5 352.5 354.5 352.5 356.5 352.5 360.5 352.5 366.5 352.5 368.5 352.5 372.5 352.5 374.5 352.5 376.5 352.5 378.5 353.5 348.5 353.5 358.5 353.5 362.5 353.5 364.5 353.5 366.5 353.5 368.5 353.5 374.5 353.5 376.5 353.5 378.5 353.5 380.5 353.5 382.5 353.5 384.5 354.5 348.5 354.5 350.5 354.5 352.5 354.5 354.5 354.5 356.5 354.5 358.5 354.5 362.5 354.5 368.5 354.5 370.5 354.5 372.5 354.5 374.5 354.5 376.5 354.5 378.5 354.5 380.5 354.5 382.5 354.5 384.5 355.5 352.5 355.5 354.5 355.5 356.5 355.5 358.5 355.5 364.5 355.5 366.5 355.5 368.5 355.5 370.5 355.5 374.5 356.5 352.5 356.5 354.5 356.5 356.5 356.5 366.5 356.5 370.5 356.5 376.5 356.5 378.5 356.5 380.5 356.5 386.5 357.5 346.5 357.5 350.5 357.5 352.5 357.5 354.5 357.5 356.5 357.5 358.5 357.5 360.5 357.5 362.5 357.5 364.5 357.5 366.5 357.5 368.5 357.5 370.5 357.5 372.5 357.5 374.5 357.5 376.5 357.5 378.5 357.5 380.5 357.5 382.5 357.5 384.5 357.5 386.5 357.5 388.5 357.5 390.5 357.5 392.5 357.5 394.5 357.5 396.5 358.5 348.5 358.5 354.5 358.5 356.5 358.5 360.5 358.5 362.5 358.5 364.5 358.5 368.5 358.5 370.5 358.5 380.5 358.5 382.5 358.5 388.5 358.5 390.5 358.5 392.5 358.5 396.5 359.5 344.5 359.5 348.5 359.5 354.5 359.5 358.5 359.5 360.5 359.5 362.5 359.5 370.5 359.5 374.5 359.5 378.5 359.5 380.5 359.5 382.5 359.5 386.5 359.5 388.5 360.5 346.5 360.5 350.5 360.5 352.5 360.5 354.5 360.5 356.5 360.5 358.5 360.5 360.5 360.5 362.5 360.5 366.5 360.5 368.5 360.5 370.5 360.5 372.5 360.5 374.5 360.5 376.5 360.5 378.5 360.5 380.5 360.5 382.5 361.5 348.5 361.5 350.5 361.5 352.5 361.5 356.5 361.5 358.5 361.5 360.5 361.5 362.5 361.5 364.5 361.5 380.5 362.5 336.5 362.5 340.5 362.5 344.5 362.5 346.5 362.5 348.5 362.5 350.5 362.5 352.5 362.5 354.5 362.5 370.5 362.5 372.5 362.5 374.5 362.5 376.5 362.5 378.5 363.5 334.5 363.5 336.5 363.5 338.5 363.5 340.5 363.5 342.5 363.5 344.5 363.5 346.5 363.5 348.5 363.5 352.5 363.5 354.5 363.5 356.5 363.5 358.5 363.5 362.5 363.5 366.5 363.5 370.5 363.5 372.5 363.5 374.5 363.5 378.5 364.5 332.5 364.5 344.5 364.5 346.5 364.5 348.5 364.5 352.5 364.5 354.5 364.5 368.5 364.5 370.5 364.5 372.5 364.5 374.5 364.5 378.5 365.5 334.5 365.5 338.5 365.5 340.5 365.5 342.5 365.5 344.5 365.5 348.5 365.5 352.5 365.5 356.5 365.5 360.5 365.5 364.5 366.5 332.5 366.5 334.5 366.5 336.5 366.5 338.5 366.5 340.5 366.5 342.5 366.5 344.5 366.5 348.5 366.5 350.5 366.5 352.5 366.5 354.5 366.5 356.5 367.5 334.5 367.5 338.5 367.5 342.5 367.5 344.5 367.5 346.5 367.5 348.5 367.5 350.5 367.5 354.5 367.5 356.5 368.5 332.5 368.5 336.5 368.5 340.5 368.5 342.5 368.5 346.5 368.5 348.5 368.5 350.5 368.5 352.5 368.5 354.5 369.5 332.5 369.5 334.5 369.5 336.5 369.5 338.5 369.5 340.5 369.5 342.5 369.5 344.5 369.5 348.5 369.5 350.5 369.5 352.5 369.5 354.5 369.5 356.5 370.5 328.5 370.5 334.5 370.5 336.5 370.5 340.5 370.5 342.5 370.5 344.5 370.5 348.5 370.5 352.5 370.5 354.5 370.5 356.5 370.5 358.5 371.5 330.5 371.5 332.5 371.5 336.5 371.5 338.5 371.5 340.5 371.5 344.5 371.5 346.5 371.5 348.5 371.5 350.5 371.5 354.5 372.5 330.5 372.5 332.5 372.5 334.5 372.5 336.5 372.5 338.5 372.5 340.5 372.5 342.5 372.5 344.5 372.5 346.5 372.5 348.5 372.5 350.5 372.5 352.5 372.5 354.5 372.5 356.5 372.5 358.5 373.5 336.5 373.5 338.5 373.5 342.5 373.5 346.5 373.5 348.5 373.5 352.5 373.5 354.5 373.5 356.5 374.5 332.5 374.5 334.5 374.5 336.5 374.5 338.5 374.5 340.5 374.5 344.5 374.5 346.5 374.5 348.5 374.5 352.5 374.5 354.5 375.5 328.5 375.5 330.5 375.5 332.5 375.5 334.5 375.5 336.5 375.5 338.5 375.5 340.5 375.5 342.5 375.5 344.5 375.5 346.5 375.5 348.5 375.5 350.5 375.5 352.5 375.5 354.5 375.5 356.5 375.5 358.5 375.5 360.5 376.5 338.5 376.5 340.5 376.5 342.5 376.5 354.5 376.5 356.5 377.5 334.5 377.5 338.5 377.5 340.5 377.5 346.5 377.5 348.5 377.5 356.5 378.5 328.5 378.5 330.5 378.5 334.5 378.5 336.5 378.5 338.5 378.5 340.5 378.5 342.5 378.5 344.5 378.5 346.5 378.5 348.5 378.5 350.5 378.5 352.5 378.5 354.5 378.5 356.5 378.5 358.5 379.5 332.5 379.5 336.5 379.5 338.5 379.5 340.5 379.5 342.5 379.5 346.5 379.5 348.5 380.5 328.5 380.5 330.5 380.5 334.5 380.5 340.5 380.5 342.5 380.5 344.5 380.5 346.5 380.5 350.5 380.5 352.5 380.5 354.5 380.5 356.5 380.5 360.5 380.5 362.5 380.5 364.5 381.5 326.5 381.5 330.5 381.5 332.5 381.5 334.5 381.5 336.5 381.5 338.5 381.5 340.5 381.5 342.5 381.5 344.5 381.5 346.5 381.5 348.5 381.5 350.5 381.5 352.5 381.5 354.5 381.5 356.5 381.5 358.5 381.5 360.5 381.5 362.5 381.5 364.5 382.5 326.5 382.5 328.5 382.5 332.5 382.5 336.5 382.5 342.5 382.5 346.5 382.5 354.5 382.5 356.5 383.5 324.5 383.5 328.5 383.5 330.5 383.5 332.5 383.5 334.5 383.5 336.5 383.5 338.5 383.5 342.5 383.5 346.5 383.5 348.5 383.5 350.5 384.5 324.5 384.5 326.5 384.5 328.5 384.5 330.5 384.5 332.5 384.5 334.5 384.5 338.5 384.5 340.5 384.5 342.5 384.5 344.5 384.5 346.5 384.5 348.5 384.5 350.5 384.5 352.5 384.5 354.5 385.5 328.5 385.5 330.5 385.5 332.5 385.5 334.5 385.5 336.5 385.5 340.5 385.5 344.5 385.5 346.5 385.5 348.5 385.5 350.5 385.5 352.5 385.5 356.5 386.5 334.5 386.5 336.5 386.5 340.5 386.5 342.5 386.5 348.5 386.5 350.5 386.5 354.5 386.5 356.5 387.5 324.5 387.5 326.5 387.5 328.5 387.5 332.5 387.5 334.5 387.5 336.5 387.5 338.5 387.5 340.5 387.5 342.5 387.5 344.5 387.5 346.5 387.5 348.5 387.5 350.5 387.5 352.5 387.5 354.5 387.5 356.5 387.5 358.5 388.5 326.5 388.5 328.5 388.5 336.5 388.5 342.5 388.5 344.5 388.5 350.5 388.5 352.5 388.5 356.5 389.5 328.5 389.5 332.5 389.5 334.5 389.5 338.5 389.5 340.5 389.5 342.5 389.5 348.5 389.5 350.5 389.5 354.5 390.5 322.5 390.5 324.5 390.5 326.5 390.5 328.5 390.5 330.5 390.5 332.5 390.5 334.5 390.5 336.5 390.5 338.5 390.5 340.5 390.5 342.5 390.5 344.5 390.5 346.5 390.5 348.5 390.5 352.5 390.5 354.5 390.5 356.5 390.5 358.5 390.5 360.5 391.5 326.5 391.5 330.5 391.5 338.5 391.5 344.5 391.5 346.5 391.5 348.5 391.5 352.5 391.5 354.5 391.5 356.5 392.5 324.5 392.5 326.5 392.5 328.5 392.5 330.5 392.5 334.5 392.5 336.5 392.5 338.5 392.5 342.5 392.5 344.5 392.5 346.5 392.5 352.5 393.5 322.5 393.5 326.5 393.5 328.5 393.5 330.5 393.5 332.5 393.5 334.5 393.5 336.5 393.5 338.5 393.5 342.5 393.5 344.5 393.5 346.5 393.5 348.5 393.5 352.5 393.5 354.5 394.5 322.5 394.5 324.5 394.5 326.5 394.5 332.5 394.5 334.5 394.5 340.5 394.5 346.5 395.5 322.5 395.5 324.5 395.5 326.5 395.5 330.5 395.5 336.5 395.5 340.5 395.5 344.5 395.5 350.5 395.5 354.5 396.5 326.5 396.5 330.5 396.5 332.5 396.5 334.5 396.5 336.5 396.5 338.5 396.5 340.5 396.5 342.5 396.5 344.5 396.5 346.5 396.5 348.5 396.5 350.5 396.5 352.5 396.5 354.5 396.5 356.5 396.5 358.5 397.5 326.5 397.5 332.5 397.5 334.5 397.5 344.5 397.5 350.5 397.5 354.5 397.5 356.5 397.5 358.5 398.5 334.5 398.5 338.5 398.5 340.5 398.5 342.5 398.5 344.5 398.5 348.5 398.5 350.5 398.5 352.5 398.5 354.5 398.5 356.5 398.5 358.5 398.5 360.5 398.5 362.5 399.5 332.5 399.5 334.5 399.5 336.5 399.5 338.5 399.5 340.5 399.5 342.5 399.5 344.5 399.5 348.5 399.5 350.5 399.5 352.5 399.5 354.5 399.5 356.5 399.5 358.5 399.5 360.5 399.5 364.5 399.5 366.5 400.5 340.5 400.5 342.5 400.5 344.5 400.5 352.5 400.5 354.5 400.5 360.5 400.5 364.5 401.5 340.5 401.5 342.5 401.5 344.5 401.5 346.5 401.5 348.5 401.5 352.5 401.5 354.5 401.5 360.5 401.5 362.5 401.5 364.5 401.5 370.5 402.5 338.5 402.5 340.5 402.5 342.5 402.5 346.5 402.5 348.5 402.5 350.5 402.5 352.5 402.5 354.5 402.5 356.5 402.5 358.5 402.5 360.5 402.5 362.5 402.5 364.5 402.5 366.5 403.5 332.5 403.5 336.5 403.5 338.5 403.5 344.5 403.5 346.5 403.5 356.5 403.5 358.5 403.5 360.5 404.5 334.5 404.5 336.5 404.5 338.5 404.5 340.5 404.5 346.5 404.5 350.5 404.5 352.5 404.5 354.5 404.5 356.5 405.5 324.5 405.5 326.5 405.5 328.5 405.5 330.5 405.5 332.5 405.5 334.5 405.5 336.5 405.5 338.5 405.5 340.5 405.5 342.5 405.5 344.5 405.5 346.5 405.5 348.5 405.5 350.5 405.5 352.5 405.5 354.5 406.5 334.5 406.5 340.5 406.5 342.5 406.5 346.5 406.5 348.5 406.5 350.5 406.5 354.5 407.5 330.5 407.5 344.5 407.5 348.5 407.5 350.5 407.5 352.5 407.5 356.5 407.5 358.5 408.5 332.5 408.5 336.5 408.5 340.5 408.5 342.5 408.5 346.5 408.5 348.5 408.5 350.5 408.5 352.5 408.5 354.5 408.5 358.5 408.5 360.5 408.5 362.5 409.5 334.5 409.5 338.5 409.5 340.5 409.5 348.5 409.5 350.5 409.5 356.5 410.5 332.5 410.5 336.5 410.5 340.5 410.5 344.5 410.5 346.5 410.5 348.5 410.5 350.5 410.5 354.5 410.5 356.5 410.5 358.5 411.5 338.5 411.5 340.5 411.5 344.5 411.5 346.5 411.5 348.5 411.5 350.5 411.5 352.5 411.5 354.5 411.5 356.5 411.5 358.5 411.5 362.5 412.5 346.5 412.5 348.5 412.5 352.5 412.5 354.5 412.5 364.5 412.5 366.5 413.5 338.5 413.5 340.5 413.5 342.5 413.5 344.5 413.5 346.5 413.5 348.5 413.5 350.5 413.5 352.5 413.5 356.5 413.5 358.5 413.5 362.5 413.5 368.5 414.5 338.5 414.5 340.5 414.5 342.5 414.5 344.5 414.5 346.5 414.5 348.5 414.5 350.5 414.5 352.5 414.5 356.5 414.5 358.5 414.5 362.5 414.5 364.5 414.5 366.5 414.5 368.5 414.5 370.5 414.5 372.5 414.5 374.5 415.5 340.5 415.5 344.5 415.5 346.5 415.5 348.5 415.5 352.5 415.5 354.5 415.5 360.5 415.5 364.5 415.5 366.5 415.5 368.5 415.5 372.5 415.5 376.5 416.5 340.5 416.5 342.5 416.5 344.5 416.5 348.5 416.5 352.5 416.5 356.5 416.5 358.5 416.5 362.5 416.5 366.5 416.5 372.5 417.5 346.5 417.5 348.5 417.5 350.5 417.5 352.5 417.5 354.5 417.5 356.5 417.5 360.5 417.5 362.5 417.5 364.5 417.5 366.5 417.5 368.5 417.5 372.5 417.5 374.5 418.5 340.5 418.5 342.5 418.5 344.5 418.5 346.5 418.5 350.5 418.5 354.5 418.5 356.5 418.5 358.5 418.5 360.5 418.5 362.5 418.5 366.5 418.5 372.5 418.5 374.5 418.5 380.5 419.5 338.5 419.5 342.5 419.5 344.5 419.5 346.5 419.5 350.5 419.5 352.5 419.5 354.5 419.5 356.5 419.5 362.5 419.5 364.5 419.5 366.5 419.5 368.5 419.5 372.5 419.5 374.5 419.5 376.5 419.5 378.5 419.5 380.5 419.5 382.5 419.5 384.5 420.5 336.5 420.5 338.5 420.5 340.5 420.5 344.5 420.5 346.5 420.5 348.5 420.5 350.5 420.5 352.5 420.5 354.5 420.5 358.5 420.5 360.5 420.5 362.5 420.5 364.5 420.5 366.5 420.5 368.5 420.5 370.5 420.5 372.5 420.5 374.5 420.5 376.5 420.5 382.5 420.5 384.5 420.5 386.5 420.5 388.5 420.5 390.5 420.5 392.5 421.5 340.5 421.5 342.5 421.5 344.5 421.5 350.5 421.5 354.5 421.5 360.5 421.5 362.5 421.5 364.5 421.5 366.5 421.5 370.5 421.5 374.5 421.5 378.5 421.5 382.5 421.5 384.5 421.5 386.5 421.5 394.5 422.5 332.5 422.5 334.5 422.5 336.5 422.5 342.5 422.5 350.5 422.5 358.5 422.5 360.5 422.5 362.5 422.5 364.5 422.5 366.5 422.5 368.5 422.5 370.5 422.5 372.5 422.5 374.5 422.5 376.5 422.5 378.5 422.5 380.5 422.5 382.5 422.5 386.5 422.5 388.5 422.5 390.5 423.5 324.5 423.5 326.5 423.5 328.5 423.5 330.5 423.5 332.5 423.5 334.5 423.5 336.5 423.5 338.5 423.5 340.5 423.5 342.5 423.5 344.5 423.5 346.5 423.5 348.5 423.5 350.5 423.5 352.5 423.5 354.5 423.5 356.5 423.5 358.5 423.5 360.5 423.5 362.5 423.5 364.5 423.5 366.5 423.5 368.5 423.5 370.5 423.5 372.5 423.5 374.5 423.5 378.5 423.5 380.5 423.5 384.5 423.5 386.5 423.5 388.5 423.5 390.5 423.5 392.5 423.5 394.5 423.5 396.5 424.5 328.5 424.5 330.5 424.5 332.5 424.5 336.5 424.5 338.5 424.5 340.5 424.5 346.5 424.5 352.5 424.5 354.5 424.5 358.5 424.5 360.5 424.5 364.5 424.5 366.5 424.5 368.5 424.5 370.5 424.5 372.5 424.5 374.5 424.5 376.5 424.5 378.5 424.5 380.5 425.5 316.5 425.5 318.5 425.5 322.5 425.5 324.5 425.5 326.5 425.5 332.5 425.5 334.5 425.5 336.5 425.5 338.5 425.5 340.5 425.5 342.5 425.5 346.5 425.5 348.5 425.5 350.5 425.5 352.5 425.5 354.5 425.5 356.5 425.5 358.5 425.5 362.5 425.5 366.5 426.5 320.5 426.5 322.5 426.5 324.5 426.5 326.5 426.5 328.5 426.5 330.5 426.5 334.5 426.5 336.5 426.5 338.5 426.5 340.5 426.5 342.5 426.5 344.5 426.5 346.5 426.5 348.5 426.5 350.5 426.5 352.5 426.5 354.5 426.5 356.5 426.5 358.5 426.5 362.5 427.5 324.5 427.5 326.5 427.5 328.5 427.5 330.5 427.5 332.5 427.5 334.5 427.5 338.5 427.5 342.5 427.5 344.5 427.5 346.5 427.5 348.5 427.5 352.5 427.5 356.5 427.5 358.5 428.5 332.5 428.5 336.5 428.5 338.5 428.5 340.5 428.5 344.5 428.5 346.5 428.5 350.5 428.5 352.5 428.5 354.5 428.5 360.5 428.5 362.5 428.5 364.5 429.5 334.5 429.5 336.5 429.5 338.5 429.5 342.5 429.5 344.5 429.5 346.5 429.5 348.5 429.5 350.5 429.5 352.5 429.5 354.5 429.5 356.5 429.5 358.5 429.5 360.5 429.5 362.5 429.5 364.5 429.5 366.5 429.5 368.5 429.5 370.5 429.5 372.5 429.5 374.5 429.5 376.5 430.5 340.5 430.5 344.5 430.5 346.5 430.5 348.5 430.5 352.5 430.5 356.5 430.5 358.5 430.5 364.5 430.5 366.5 430.5 368.5 430.5 370.5 430.5 378.5 430.5 382.5 431.5 338.5 431.5 340.5 431.5 344.5 431.5 348.5 431.5 350.5 431.5 352.5 431.5 354.5 431.5 356.5 431.5 358.5 431.5 360.5 431.5 362.5 431.5 364.5 431.5 366.5 432.5 334.5 432.5 336.5 432.5 338.5 432.5 342.5 432.5 344.5 432.5 348.5 432.5 350.5 432.5 352.5 432.5 354.5 432.5 356.5 432.5 358.5 432.5 362.5 432.5 364.5 432.5 368.5 433.5 330.5 433.5 334.5 433.5 336.5 433.5 338.5 433.5 340.5 433.5 348.5 433.5 350.5 433.5 352.5 433.5 356.5 433.5 358.5 433.5 362.5 434.5 330.5 434.5 334.5 434.5 338.5 434.5 340.5 434.5 344.5 434.5 346.5 434.5 348.5 434.5 350.5 434.5 352.5 434.5 354.5 434.5 358.5 435.5 330.5 435.5 334.5 435.5 336.5 435.5 338.5 435.5 340.5 435.5 342.5 435.5 344.5 435.5 346.5 435.5 350.5 435.5 352.5 435.5 354.5 435.5 356.5 435.5 358.5 436.5 332.5 436.5 334.5 436.5 336.5 436.5 338.5 436.5 340.5 436.5 342.5 436.5 344.5 436.5 346.5 436.5 350.5 436.5 354.5 436.5 356.5 437.5 332.5 437.5 336.5 437.5 338.5 437.5 340.5 437.5 342.5 437.5 344.5 437.5 346.5 437.5 348.5 437.5 352.5 437.5 358.5 438.5 330.5 438.5 332.5 438.5 334.5 438.5 336.5 438.5 338.5 438.5 340.5 438.5 342.5 438.5 344.5 438.5 346.5 438.5 348.5 438.5 350.5 438.5 352.5 438.5 354.5 438.5 356.5 438.5 358.5 438.5 360.5 439.5 332.5 439.5 334.5 439.5 338.5 439.5 342.5 439.5 344.5 439.5 346.5 439.5 350.5 439.5 352.5 439.5 354.5 440.5 340.5 440.5 342.5 440.5 344.5 440.5 346.5 440.5 348.5 440.5 352.5 440.5 354.5 441.5 338.5 441.5 340.5 441.5 342.5 441.5 344.5 441.5 346.5 441.5 348.5 441.5 350.5 441.5 352.5 441.5 354.5 441.5 356.5 441.5 358.5 441.5 360.5 442.5 338.5 442.5 342.5 442.5 344.5 442.5 348.5 442.5 352.5 442.5 356.5 442.5 360.5 442.5 362.5 443.5 338.5 443.5 342.5 443.5 346.5 443.5 348.5 443.5 350.5 443.5 354.5 443.5 360.5 443.5 364.5 444.5 342.5 444.5 344.5 444.5 346.5 444.5 348.5 444.5 350.5 444.5 352.5 444.5 354.5 444.5 358.5 444.5 360.5 444.5 362.5 444.5 364.5 445.5 348.5 445.5 352.5 445.5 354.5 445.5 358.5 445.5 360.5 445.5 362.5 445.5 366.5 446.5 342.5 446.5 344.5 446.5 346.5 446.5 348.5 446.5 352.5 446.5 354.5 446.5 356.5 446.5 360.5 446.5 364.5 447.5 342.5 447.5 344.5 447.5 346.5 447.5 348.5 447.5 350.5 447.5 352.5 447.5 354.5 447.5 356.5 447.5 358.5 447.5 360.5 447.5 362.5 447.5 364.5 447.5 366.5 447.5 368.5 448.5 344.5 448.5 346.5 448.5 348.5 448.5 350.5 448.5 354.5 448.5 356.5 448.5 360.5 448.5 370.5 449.5 348.5 449.5 352.5 449.5 354.5 449.5 358.5 449.5 360.5 449.5 364.5 449.5 368.5 450.5 344.5 450.5 346.5 450.5 348.5 450.5 350.5 450.5 352.5 450.5 354.5 450.5 356.5 450.5 358.5 450.5 360.5 450.5 362.5 450.5 364.5 450.5 368.5 451.5 354.5 451.5 358.5 451.5 360.5 451.5 362.5 452.5 346.5 452.5 348.5 452.5 350.5 452.5 354.5 452.5 358.5 452.5 362.5 452.5 364.5 453.5 346.5 453.5 350.5 453.5 352.5 453.5 356.5 453.5 358.5 453.5 360.5 453.5 362.5 453.5 364.5 453.5 366.5 453.5 368.5 454.5 352.5 454.5 356.5 454.5 364.5 454.5 368.5 455.5 352.5 455.5 354.5 455.5 360.5 455.5 362.5 455.5 366.5 455.5 368.5 456.5 348.5 456.5 352.5 456.5 354.5 456.5 356.5 456.5 358.5 456.5 360.5 456.5 362.5 456.5 364.5 456.5 368.5 457.5 346.5 457.5 348.5 457.5 350.5 457.5 356.5 457.5 360.5 457.5 362.5 457.5 366.5 458.5 352.5 458.5 358.5 458.5 360.5 458.5 362.5 459.5 346.5 459.5 348.5 459.5 352.5 459.5 354.5 459.5 356.5 459.5 358.5 459.5 360.5 459.5 362.5 460.5 348.5 460.5 350.5 460.5 352.5 460.5 356.5 460.5 358.5 460.5 360.5 460.5 362.5 460.5 364.5 460.5 366.5 461.5 342.5 461.5 352.5 461.5 358.5 462.5 344.5 462.5 346.5 462.5 348.5 462.5 350.5 462.5 352.5 462.5 356.5 462.5 360.5 463.5 348.5 463.5 352.5 463.5 358.5 463.5 360.5 464.5 346.5 464.5 348.5 464.5 350.5 464.5 354.5 464.5 356.5 464.5 358.5 464.5 360.5 465.5 336.5 465.5 338.5 465.5 340.5 465.5 342.5 465.5 344.5 465.5 346.5 465.5 350.5 465.5 352.5 465.5 354.5 465.5 358.5 465.5 362.5 465.5 364.5 466.5 336.5 466.5 338.5 466.5 340.5 466.5 344.5 466.5 346.5 466.5 350.5 466.5 352.5 466.5 358.5 467.5 340.5 467.5 352.5 467.5 358.5 468.5 336.5 468.5 338.5 468.5 340.5 468.5 342.5 468.5 344.5 468.5 346.5 468.5 348.5 468.5 350.5 468.5 352.5 468.5 354.5 468.5 356.5 468.5 358.5 468.5 360.5 468.5 362.5 469.5 336.5 469.5 338.5 469.5 340.5 469.5 344.5 469.5 346.5 469.5 350.5 469.5 354.5 469.5 356.5 470.5 338.5 470.5 346.5 470.5 350.5 470.5 352.5 470.5 354.5 470.5 356.5 471.5 338.5 471.5 340.5 471.5 342.5 471.5 344.5 471.5 346.5 471.5 348.5 471.5 350.5 471.5 352.5 471.5 354.5 471.5 356.5 471.5 358.5 472.5 338.5 472.5 340.5 472.5 346.5 472.5 348.5 472.5 350.5 472.5 358.5 473.5 340.5 473.5 344.5 473.5 352.5 473.5 356.5 474.5 336.5 474.5 338.5 474.5 340.5 474.5 342.5 474.5 344.5 474.5 346.5 474.5 350.5 474.5 352.5 474.5 354.5 474.5 356.5 474.5 358.5 474.5 362.5 475.5 340.5 475.5 344.5 475.5 346.5 475.5 348.5 475.5 350.5 475.5 354.5 476.5 340.5 476.5 342.5 476.5 344.5 476.5 346.5 476.5 352.5 476.5 356.5 476.5 358.5 476.5 362.5 476.5 364.5 477.5 338.5 477.5 340.5 477.5 342.5 477.5 344.5 477.5 346.5 477.5 348.5 477.5 350.5 477.5 352.5 477.5 354.5 477.5 356.5 477.5 358.5 477.5 360.5 477.5 362.5 477.5 364.5 477.5 366.5 478.5 344.5 478.5 346.5 478.5 348.5 478.5 354.5 478.5 358.5 478.5 360.5 478.5 362.5 478.5 366.5 479.5 338.5 479.5 342.5 479.5 346.5 479.5 350.5 479.5 356.5 479.5 360.5 479.5 364.5 480.5 340.5 480.5 342.5 480.5 344.5 480.5 346.5 480.5 348.5 480.5 350.5 480.5 352.5 480.5 354.5 480.5 356.5 480.5 358.5 480.5 360.5 480.5 362.5 481.5 346.5 481.5 348.5 481.5 350.5 481.5 354.5 481.5 356.5 481.5 358.5 481.5 360.5 482.5 344.5 482.5 348.5 482.5 350.5 482.5 352.5 482.5 354.5 482.5 356.5 483.5 340.5 483.5 346.5 483.5 348.5 483.5 350.5 483.5 352.5 483.5 354.5 483.5 358.5 483.5 362.5 484.5 342.5 484.5 344.5 484.5 346.5 484.5 348.5 484.5 350.5 484.5 352.5 484.5 354.5 484.5 356.5 484.5 358.5 484.5 360.5 485.5 344.5 485.5 346.5 485.5 352.5 485.5 358.5 485.5 362.5 486.5 338.5 486.5 340.5 486.5 342.5 486.5 344.5 486.5 348.5 486.5 350.5 486.5 352.5 486.5 354.5 486.5 356.5 486.5 358.5 486.5 360.5 486.5 362.5 487.5 340.5 487.5 342.5 487.5 346.5 487.5 350.5 487.5 352.5 487.5 356.5 487.5 362.5 488.5 342.5 488.5 346.5 488.5 352.5 488.5 356.5 488.5 360.5 488.5 364.5 489.5 340.5 489.5 342.5 489.5 344.5 489.5 346.5 489.5 348.5 489.5 350.5 489.5 352.5 489.5 354.5 489.5 356.5 489.5 358.5 489.5 360.5 489.5 362.5 489.5 364.5 489.5 366.5 489.5 368.5 489.5 370.5 489.5 372.5 489.5 374.5 489.5 376.5 489.5 380.5 490.5 344.5 490.5 346.5 490.5 354.5 490.5 356.5 490.5 360.5 490.5 362.5 490.5 364.5 490.5 368.5 490.5 376.5 490.5 380.5 490.5 382.5 490.5 384.5 491.5 344.5 491.5 346.5 491.5 350.5 491.5 354.5 491.5 356.5 491.5 360.5 491.5 362.5 491.5 364.5 491.5 366.5 491.5 368.5 491.5 370.5 491.5 372.5 491.5 376.5 491.5 386.5 491.5 390.5 492.5 342.5 492.5 344.5 492.5 346.5 492.5 350.5 492.5 352.5 492.5 354.5 492.5 356.5 492.5 358.5 492.5 360.5 492.5 362.5 492.5 364.5 492.5 366.5 492.5 368.5 492.5 370.5 492.5 372.5 492.5 374.5 492.5 376.5 492.5 378.5 492.5 380.5 492.5 382.5 492.5 384.5 492.5 386.5 492.5 388.5 492.5 390.5 492.5 392.5 493.5 334.5 493.5 336.5 493.5 340.5 493.5 342.5 493.5 344.5 493.5 346.5 493.5 348.5 493.5 350.5 493.5 356.5 493.5 358.5 493.5 360.5 493.5 362.5 493.5 368.5 493.5 370.5 493.5 376.5 493.5 378.5 493.5 380.5 494.5 328.5 494.5 330.5 494.5 334.5 494.5 340.5 494.5 348.5 494.5 352.5 494.5 354.5 494.5 360.5 494.5 362.5 494.5 364.5 494.5 368.5 494.5 370.5 494.5 374.5 494.5 378.5 495.5 324.5 495.5 326.5 495.5 328.5 495.5 330.5 495.5 332.5 495.5 334.5 495.5 336.5 495.5 338.5 495.5 340.5 495.5 342.5 495.5 344.5 495.5 346.5 495.5 348.5 495.5 350.5 495.5 352.5 495.5 354.5 495.5 356.5 495.5 358.5 495.5 360.5 495.5 362.5 495.5 364.5 495.5 366.5 495.5 368.5 495.5 370.5 496.5 334.5 496.5 338.5 496.5 342.5 496.5 346.5 496.5 348.5 496.5 350.5 496.5 354.5 496.5 358.5 496.5 362.5 497.5 330.5 497.5 334.5 497.5 336.5 497.5 338.5 497.5 340.5 497.5 344.5 497.5 346.5 497.5 348.5 497.5 350.5 497.5 352.5 497.5 354.5 498.5 328.5 498.5 330.5 498.5 332.5 498.5 334.5 498.5 336.5 498.5 338.5 498.5 340.5 498.5 342.5 498.5 344.5 498.5 348.5 498.5 350.5 498.5 352.5 498.5 356.5 499.5 332.5 499.5 334.5 499.5 336.5 499.5 342.5 499.5 346.5 499.5 348.5 499.5 350.5 499.5 354.5 500.5 332.5 500.5 334.5 500.5 336.5 500.5 340.5 500.5 342.5 500.5 346.5 500.5 348.5 500.5 350.5 500.5 352.5 500.5 354.5 501.5 328.5 501.5 330.5 501.5 332.5 501.5 334.5 501.5 336.5 501.5 338.5 501.5 340.5 501.5 342.5 501.5 344.5 501.5 346.5 501.5 348.5 501.5 350.5 501.5 352.5 501.5 354.5 501.5 356.5 501.5 358.5 501.5 360.5 502.5 334.5 502.5 336.5 502.5 340.5 502.5 342.5 502.5 352.5 502.5 356.5 502.5 358.5 502.5 360.5 502.5 362.5 503.5 328.5 503.5 338.5 503.5 340.5 503.5 346.5 503.5 348.5 503.5 350.5 503.5 354.5 504.5 330.5 504.5 332.5 504.5 334.5 504.5 338.5 504.5 340.5 504.5 342.5 504.5 344.5 504.5 348.5 504.5 350.5 504.5 352.5 504.5 354.5 505.5 328.5 505.5 330.5 505.5 332.5 505.5 336.5 505.5 338.5 505.5 350.5 505.5 352.5 506.5 326.5 506.5 328.5 506.5 334.5 506.5 336.5 506.5 338.5 506.5 346.5 507.5 318.5 507.5 320.5 507.5 322.5 507.5 324.5 507.5 328.5 507.5 332.5 507.5 334.5 507.5 336.5 507.5 338.5 507.5 340.5 507.5 342.5 507.5 344.5 507.5 346.5 507.5 350.5 507.5 352.5 508.5 320.5 508.5 322.5 508.5 324.5 508.5 330.5 508.5 332.5 508.5 334.5 508.5 336.5 508.5 338.5 508.5 348.5 509.5 326.5 509.5 328.5 509.5 330.5 509.5 332.5 509.5 334.5 509.5 336.5 509.5 338.5 509.5 340.5 509.5 342.5 509.5 346.5 510.5 316.5 510.5 318.5 510.5 320.5 510.5 322.5 510.5 324.5 510.5 326.5 510.5 328.5 510.5 330.5 510.5 332.5 510.5 334.5 510.5 336.5 510.5 338.5 510.5 340.5 510.5 342.5 510.5 346.5 510.5 348.5 510.5 350.5 510.5 352.5 510.5 354.5 511.5 318.5 511.5 320.5 511.5 322.5 511.5 326.5 511.5 330.5 511.5 332.5 511.5 340.5 511.5 342.5 511.5 346.5 511.5 350.5 511.5 352.5 511.5 356.5 512.5 320.5 512.5 324.5 512.5 326.5 512.5 330.5 512.5 332.5 512.5 336.5 512.5 342.5 512.5 346.5 512.5 350.5 512.5 352.5 512.5 354.5 513.5 314.5 513.5 316.5 513.5 318.5 513.5 322.5 513.5 324.5 513.5 326.5 513.5 328.5 513.5 330.5 513.5 332.5 513.5 334.5 513.5 336.5 513.5 338.5 513.5 340.5 513.5 342.5 513.5 344.5 513.5 348.5 513.5 350.5 514.5 316.5 514.5 318.5 514.5 322.5 514.5 324.5 514.5 332.5 514.5 334.5 514.5 338.5 514.5 340.5 514.5 342.5 514.5 344.5 514.5 346.5 515.5 314.5 515.5 316.5 515.5 318.5 515.5 322.5 515.5 324.5 515.5 326.5 515.5 328.5 515.5 330.5 515.5 334.5 515.5 338.5 515.5 340.5 515.5 342.5 515.5 344.5 515.5 348.5 516.5 316.5 516.5 318.5 516.5 320.5 516.5 322.5 516.5 324.5 516.5 326.5 516.5 328.5 516.5 330.5 516.5 332.5 516.5 334.5 516.5 336.5 516.5 340.5 516.5 342.5 516.5 344.5 516.5 346.5 516.5 348.5 516.5 350.5 516.5 352.5 517.5 316.5 517.5 318.5 517.5 322.5 517.5 324.5 517.5 326.5 517.5 336.5 517.5 338.5 517.5 340.5 517.5 342.5 517.5 344.5 518.5 324.5 518.5 326.5 518.5 330.5 518.5 332.5 518.5 334.5 518.5 338.5 518.5 340.5 518.5 342.5 518.5 344.5 518.5 348.5 519.5 318.5 519.5 320.5 519.5 328.5 519.5 330.5 519.5 332.5 519.5 334.5 519.5 336.5 519.5 338.5 519.5 340.5 519.5 342.5 519.5 344.5 520.5 322.5 520.5 330.5 520.5 332.5 520.5 334.5 520.5 344.5 521.5 324.5 521.5 328.5 521.5 330.5 521.5 332.5 521.5 336.5 522.5 318.5 522.5 322.5 522.5 324.5 522.5 326.5 522.5 330.5 522.5 332.5 522.5 334.5 522.5 338.5 522.5 340.5 522.5 342.5 522.5 344.5 522.5 346.5 522.5 348.5 522.5 350.5 522.5 352.5 523.5 326.5 523.5 328.5 523.5 330.5 523.5 332.5 523.5 334.5 523.5 342.5 523.5 350.5 523.5 352.5 523.5 354.5 523.5 356.5 523.5 358.5 523.5 366.5 524.5 324.5 524.5 328.5 524.5 330.5 524.5 332.5 524.5 336.5 524.5 338.5 524.5 344.5 524.5 346.5 524.5 348.5 524.5 350.5 524.5 352.5 524.5 354.5 524.5 356.5 524.5 358.5 524.5 360.5 524.5 362.5 524.5 364.5 525.5 320.5 525.5 322.5 525.5 324.5 525.5 326.5 525.5 328.5 525.5 330.5 525.5 332.5 525.5 334.5 525.5 336.5 525.5 338.5 525.5 340.5 525.5 342.5 525.5 344.5 525.5 346.5 525.5 348.5 525.5 350.5 525.5 352.5 526.5 324.5 526.5 326.5 526.5 328.5 526.5 330.5 526.5 332.5 526.5 340.5 526.5 344.5 527.5 322.5 527.5 326.5 527.5 328.5 527.5 332.5 527.5 334.5 527.5 336.5 527.5 340.5 527.5 342.5 527.5 344.5 528.5 320.5 528.5 322.5 528.5 324.5 528.5 326.5 528.5 328.5 528.5 330.5 528.5 332.5 528.5 334.5 528.5 336.5 528.5 338.5 528.5 340.5 528.5 342.5 528.5 344.5 528.5 346.5 529.5 320.5 529.5 324.5 529.5 326.5 529.5 328.5 529.5 330.5 529.5 334.5 529.5 336.5 529.5 338.5 530.5 322.5 530.5 324.5 530.5 326.5 530.5 328.5 530.5 332.5 530.5 336.5 530.5 338.5 531.5 314.5 531.5 318.5 531.5 320.5 531.5 322.5 531.5 324.5 531.5 326.5 531.5 328.5 531.5 330.5 531.5 332.5 531.5 334.5 531.5 336.5 531.5 338.5 531.5 340.5 531.5 342.5 531.5 344.5 531.5 346.5 532.5 318.5 532.5 320.5 532.5 322.5 532.5 326.5 532.5 330.5 532.5 332.5 532.5 334.5 532.5 336.5 532.5 338.5 532.5 340.5 533.5 314.5 533.5 316.5 533.5 320.5 533.5 322.5 533.5 324.5 533.5 328.5 533.5 332.5 533.5 336.5 533.5 338.5 533.5 342.5 533.5 344.5 534.5 318.5 534.5 320.5 534.5 322.5 534.5 324.5 534.5 326.5 534.5 328.5 534.5 332.5 534.5 334.5 534.5 336.5 534.5 340.5 534.5 342.5 534.5 344.5 534.5 346.5 534.5 348.5 535.5 320.5 535.5 322.5 535.5 324.5 535.5 326.5 535.5 328.5 535.5 334.5 535.5 336.5 535.5 342.5 535.5 344.5 535.5 348.5 535.5 350.5 535.5 352.5 536.5 318.5 536.5 322.5 536.5 324.5 536.5 334.5 536.5 336.5 536.5 338.5 536.5 340.5 536.5 346.5 537.5 310.5 537.5 312.5 537.5 314.5 537.5 316.5 537.5 318.5 537.5 320.5 537.5 324.5 537.5 326.5 537.5 328.5 537.5 330.5 537.5 332.5 537.5 336.5 537.5 338.5 537.5 340.5 537.5 342.5 537.5 344.5 537.5 346.5 537.5 348.5 538.5 308.5 538.5 312.5 538.5 314.5 538.5 316.5 538.5 318.5 538.5 320.5 538.5 326.5 538.5 328.5 538.5 330.5 538.5 332.5 538.5 342.5 538.5 348.5 538.5 352.5 538.5 354.5 538.5 356.5 538.5 358.5 539.5 310.5 539.5 314.5 539.5 316.5 539.5 320.5 539.5 326.5 539.5 328.5 539.5 330.5 539.5 332.5 539.5 334.5 539.5 338.5 539.5 340.5 539.5 342.5 539.5 344.5 539.5 346.5 539.5 348.5 539.5 350.5 539.5 354.5 539.5 356.5 539.5 360.5 539.5 362.5 539.5 364.5 539.5 368.5 539.5 370.5 540.5 306.5 540.5 308.5 540.5 310.5 540.5 312.5 540.5 314.5 540.5 316.5 540.5 318.5 540.5 320.5 540.5 322.5 540.5 324.5 540.5 326.5 540.5 328.5 540.5 330.5 540.5 332.5 540.5 334.5 540.5 336.5 540.5 338.5 540.5 340.5 540.5 342.5 540.5 344.5 540.5 350.5 540.5 352.5 540.5 354.5 540.5 356.5 540.5 360.5 541.5 304.5 541.5 306.5 541.5 312.5 541.5 314.5 541.5 316.5 541.5 318.5 541.5 320.5 541.5 324.5 541.5 328.5 541.5 332.5 541.5 334.5 541.5 336.5 541.5 338.5 541.5 342.5 541.5 344.5 541.5 346.5 541.5 348.5 542.5 300.5 542.5 302.5 542.5 310.5 542.5 312.5 542.5 314.5 542.5 320.5 542.5 322.5 542.5 326.5 542.5 328.5 542.5 340.5 542.5 342.5 542.5 346.5 542.5 348.5 543.5 298.5 543.5 302.5 543.5 304.5 543.5 306.5 543.5 308.5 543.5 310.5 543.5 312.5 543.5 314.5 543.5 316.5 543.5 318.5 543.5 320.5 543.5 322.5 543.5 324.5 543.5 326.5 543.5 328.5 543.5 330.5 543.5 332.5 543.5 334.5 543.5 336.5 543.5 338.5 543.5 340.5 544.5 300.5 544.5 306.5 544.5 308.5 544.5 310.5 544.5 314.5 544.5 316.5 544.5 318.5 544.5 322.5 544.5 324.5 544.5 328.5 544.5 332.5 544.5 334.5 544.5 336.5 544.5 342.5 545.5 294.5 545.5 298.5 545.5 300.5 545.5 304.5 545.5 306.5 545.5 310.5 545.5 312.5 545.5 314.5 545.5 316.5 545.5 318.5 545.5 320.5 545.5 328.5 545.5 332.5 546.5 300.5 546.5 302.5 546.5 304.5 546.5 306.5 546.5 308.5 546.5 310.5 546.5 312.5 546.5 314.5 546.5 316.5 546.5 318.5 546.5 320.5 546.5 322.5 546.5 324.5 546.5 326.5 546.5 328.5 546.5 330.5 546.5 332.5 546.5 334.5 546.5 342.5 547.5 296.5 547.5 304.5 547.5 306.5 547.5 310.5 547.5 316.5 547.5 320.5 547.5 322.5 547.5 324.5 547.5 326.5 547.5 328.5 547.5 334.5 547.5 336.5 547.5 340.5 547.5 344.5 547.5 346.5 547.5 350.5 548.5 302.5 548.5 316.5 548.5 322.5 548.5 324.5 548.5 326.5 548.5 328.5 548.5 330.5 548.5 336.5 548.5 340.5 548.5 342.5 548.5 344.5 548.5 346.5 548.5 350.5 548.5 352.5 548.5 356.5 548.5 358.5 548.5 360.5 548.5 362.5 548.5 366.5 549.5 298.5 549.5 300.5 549.5 302.5 549.5 304.5 549.5 306.5 549.5 308.5 549.5 310.5 549.5 312.5 549.5 314.5 549.5 316.5 549.5 318.5 549.5 320.5 549.5 322.5 549.5 324.5 549.5 326.5 549.5 328.5 549.5 330.5 549.5 332.5 549.5 334.5 549.5 336.5 549.5 338.5 549.5 340.5 549.5 342.5 549.5 344.5 549.5 346.5 549.5 348.5 549.5 350.5 549.5 352.5 549.5 354.5 549.5 356.5 549.5 358.5 549.5 360.5 549.5 362.5 549.5 364.5 549.5 366.5 550.5 306.5 550.5 308.5 550.5 310.5 550.5 312.5 550.5 314.5 550.5 316.5 550.5 320.5 550.5 324.5 550.5 326.5 550.5 328.5 550.5 330.5 550.5 334.5 550.5 336.5 550.5 342.5 550.5 344.5 550.5 348.5 550.5 350.5 550.5 352.5 550.5 356.5 550.5 360.5 551.5 316.5 551.5 318.5 551.5 320.5 551.5 324.5 551.5 336.5 551.5 338.5 551.5 344.5 551.5 346.5 551.5 348.5 551.5 350.5 551.5 352.5 551.5 354.5 551.5 356.5 551.5 358.5 552.5 318.5 552.5 322.5 552.5 324.5 552.5 326.5 552.5 328.5 552.5 330.5 552.5 332.5 552.5 334.5 552.5 336.5 552.5 338.5 552.5 340.5 552.5 342.5 552.5 344.5 552.5 346.5 552.5 348.5 552.5 350.5 552.5 352.5 552.5 354.5 552.5 356.5 552.5 358.5 552.5 360.5 553.5 320.5 553.5 324.5 553.5 326.5 553.5 328.5 553.5 330.5 553.5 336.5 553.5 338.5 553.5 340.5 553.5 342.5 553.5 344.5 553.5 348.5 553.5 352.5 554.5 326.5 554.5 328.5 554.5 332.5 554.5 336.5 554.5 342.5 555.5 320.5 555.5 322.5 555.5 324.5 555.5 326.5 555.5 328.5 555.5 330.5 555.5 334.5 555.5 336.5 555.5 338.5 556.5 320.5 556.5 328.5 556.5 338.5 557.5 324.5 557.5 326.5 557.5 328.5 557.5 330.5 557.5 334.5 557.5 338.5 557.5 340.5 558.5 330.5 558.5 332.5 558.5 334.5 558.5 336.5 558.5 338.5 558.5 340.5 558.5 342.5 558.5 346.5 558.5 348.5 559.5 338.5 559.5 344.5 559.5 348.5 559.5 350.5 560.5 336.5 560.5 338.5 560.5 340.5 560.5 342.5 560.5 346.5 560.5 350.5 560.5 352.5 560.5 356.5 561.5 334.5 561.5 336.5 561.5 338.5 561.5 340.5 561.5 342.5 561.5 344.5 561.5 346.5 561.5 348.5 561.5 350.5 561.5 352.5 561.5 354.5 561.5 356.5 561.5 358.5 561.5 360.5 562.5 340.5 562.5 344.5 562.5 348.5 562.5 350.5 562.5 352.5 562.5 358.5 562.5 360.5 562.5 362.5 563.5 342.5 563.5 344.5 563.5 346.5 563.5 348.5 563.5 350.5 563.5 354.5 563.5 358.5 563.5 360.5 564.5 326.5 564.5 330.5 564.5 332.5 564.5 334.5 564.5 336.5 564.5 338.5 564.5 340.5 564.5 342.5 564.5 344.5 564.5 346.5 564.5 348.5 564.5 350.5 564.5 352.5 564.5 354.5 565.5 332.5 565.5 334.5 565.5 336.5 565.5 338.5 565.5 342.5 565.5 346.5 565.5 350.5 565.5 354.5 565.5 358.5 566.5 322.5 566.5 324.5 566.5 328.5 566.5 332.5 566.5 336.5 566.5 338.5 566.5 340.5 566.5 344.5 566.5 346.5 566.5 348.5 566.5 350.5 566.5 352.5 566.5 354.5 567.5 322.5 567.5 324.5 567.5 326.5 567.5 328.5 567.5 332.5 567.5 334.5 567.5 336.5 567.5 338.5 567.5 340.5 567.5 342.5 567.5 344.5 567.5 346.5 567.5 348.5 567.5 350.5 568.5 320.5 568.5 324.5 568.5 330.5 568.5 340.5 568.5 346.5 569.5 324.5 569.5 326.5 569.5 330.5 569.5 332.5 569.5 336.5 569.5 338.5 569.5 340.5 569.5 342.5 569.5 346.5 570.5 314.5 570.5 316.5 570.5 320.5 570.5 322.5 570.5 324.5 570.5 326.5 570.5 328.5 570.5 330.5 570.5 334.5 570.5 338.5 570.5 340.5 570.5 342.5 570.5 344.5 570.5 346.5 570.5 348.5 570.5 354.5 571.5 320.5 571.5 322.5 571.5 324.5 571.5 326.5 571.5 328.5 571.5 330.5 571.5 332.5 571.5 334.5 571.5 338.5 571.5 344.5 571.5 346.5 571.5 350.5 571.5 352.5 571.5 356.5 572.5 314.5 572.5 322.5 572.5 328.5 572.5 332.5 572.5 334.5 572.5 342.5 572.5 344.5 572.5 346.5 572.5 348.5 572.5 350.5 572.5 352.5 573.5 314.5 573.5 316.5 573.5 318.5 573.5 320.5 573.5 322.5 573.5 324.5 573.5 326.5 573.5 328.5 573.5 334.5 573.5 336.5 573.5 338.5 573.5 340.5 573.5 342.5 573.5 344.5 573.5 346.5 573.5 348.5 573.5 350.5 573.5 352.5 573.5 354.5 573.5 356.5 574.5 322.5 574.5 330.5 574.5 334.5 574.5 336.5 574.5 340.5 574.5 346.5 574.5 348.5 574.5 352.5 575.5 326.5 575.5 328.5 575.5 334.5 575.5 336.5 575.5 338.5 575.5 342.5 575.5 344.5 575.5 346.5 575.5 348.5 575.5 350.5 575.5 352.5 576.5 312.5 576.5 314.5 576.5 316.5 576.5 318.5 576.5 320.5 576.5 322.5 576.5 324.5 576.5 326.5 576.5 328.5 576.5 330.5 576.5 332.5 576.5 334.5 576.5 336.5 576.5 338.5 576.5 342.5 576.5 344.5 576.5 346.5 576.5 350.5 576.5 352.5 577.5 302.5 577.5 306.5 577.5 308.5 577.5 310.5 577.5 320.5 577.5 322.5 577.5 324.5 577.5 326.5 577.5 328.5 577.5 330.5 577.5 332.5 577.5 334.5 577.5 338.5 577.5 340.5 577.5 344.5 577.5 346.5 577.5 354.5 578.5 302.5 578.5 304.5 578.5 306.5 578.5 310.5 578.5 314.5 578.5 324.5 578.5 326.5 578.5 328.5 578.5 330.5 578.5 332.5 578.5 334.5 578.5 336.5 578.5 342.5 578.5 346.5 578.5 348.5 579.5 300.5 579.5 302.5 579.5 304.5 579.5 306.5 579.5 308.5 579.5 310.5 579.5 312.5 579.5 314.5 579.5 316.5 579.5 318.5 579.5 320.5 579.5 322.5 579.5 324.5 579.5 326.5 579.5 328.5 579.5 330.5 579.5 332.5 579.5 334.5 579.5 336.5 579.5 338.5 579.5 340.5 579.5 342.5 579.5 344.5 580.5 300.5 580.5 302.5 580.5 304.5 580.5 308.5 580.5 310.5 580.5 314.5 580.5 316.5 580.5 318.5 580.5 320.5 580.5 322.5 580.5 324.5 580.5 326.5 580.5 328.5 580.5 334.5 580.5 338.5 581.5 298.5 581.5 306.5 581.5 308.5 581.5 310.5 581.5 312.5 581.5 320.5 581.5 324.5 581.5 328.5 581.5 332.5 581.5 334.5 582.5 294.5 582.5 296.5 582.5 298.5 582.5 300.5 582.5 304.5 582.5 306.5 582.5 308.5 582.5 310.5 582.5 312.5 582.5 314.5 582.5 316.5 582.5 318.5 582.5 322.5 582.5 324.5 582.5 326.5 582.5 328.5 583.5 292.5 583.5 294.5 583.5 296.5 583.5 302.5 583.5 306.5 583.5 308.5 583.5 310.5 583.5 312.5 583.5 314.5 583.5 316.5 583.5 320.5 583.5 322.5 583.5 324.5 583.5 326.5 583.5 328.5 583.5 330.5 584.5 294.5 584.5 298.5 584.5 300.5 584.5 302.5 584.5 304.5 584.5 310.5 584.5 312.5 584.5 314.5 584.5 320.5 584.5 322.5 584.5 324.5 584.5 326.5 584.5 328.5 585.5 294.5 585.5 296.5 585.5 298.5 585.5 302.5 585.5 304.5 585.5 306.5 585.5 308.5 585.5 310.5 585.5 312.5 585.5 314.5 585.5 316.5 585.5 318.5 585.5 320.5 585.5 322.5 585.5 326.5 585.5 332.5 586.5 292.5 586.5 300.5 586.5 302.5 586.5 304.5 586.5 306.5 586.5 310.5 586.5 312.5 586.5 316.5 586.5 324.5 586.5 326.5 586.5 328.5 586.5 330.5 586.5 332.5 586.5 334.5 586.5 336.5 586.5 340.5 587.5 292.5 587.5 294.5 587.5 296.5 587.5 300.5 587.5 304.5 587.5 306.5 587.5 308.5 587.5 314.5 587.5 320.5 587.5 322.5 587.5 324.5 587.5 328.5 587.5 338.5 587.5 340.5 587.5 344.5 588.5 292.5 588.5 294.5 588.5 296.5 588.5 298.5 588.5 300.5 588.5 302.5 588.5 304.5 588.5 308.5 588.5 310.5 588.5 312.5 588.5 314.5 588.5 316.5 588.5 318.5 588.5 320.5 588.5 322.5 588.5 324.5 588.5 328.5 588.5 330.5 588.5 332.5 588.5 334.5 588.5 336.5 588.5 338.5 588.5 342.5 589.5 298.5 589.5 300.5 589.5 302.5 589.5 306.5 589.5 308.5 589.5 312.5 589.5 314.5 589.5 316.5 589.5 320.5 589.5 322.5 589.5 326.5 589.5 330.5 589.5 332.5 589.5 334.5 590.5 298.5 590.5 300.5 590.5 302.5 590.5 304.5 590.5 306.5 590.5 310.5 590.5 312.5 590.5 314.5 590.5 316.5 590.5 322.5 590.5 328.5 590.5 330.5 590.5 332.5 591.5 294.5 591.5 298.5 591.5 300.5 591.5 302.5 591.5 304.5 591.5 306.5 591.5 308.5 591.5 310.5 591.5 314.5 591.5 316.5 591.5 320.5 591.5 322.5 591.5 324.5 591.5 326.5 591.5 328.5 591.5 330.5 591.5 332.5 591.5 334.5 591.5 338.5 592.5 296.5 592.5 300.5 592.5 302.5 592.5 304.5 592.5 306.5 592.5 308.5 592.5 312.5 592.5 318.5 592.5 320.5 592.5 322.5 592.5 324.5 592.5 330.5 592.5 334.5 592.5 336.5 592.5 342.5 593.5 300.5 593.5 304.5 593.5 306.5 593.5 308.5 593.5 310.5 593.5 312.5 593.5 314.5 593.5 316.5 593.5 324.5 593.5 328.5 593.5 330.5 593.5 332.5 593.5 334.5 593.5 336.5 593.5 338.5 593.5 340.5 593.5 342.5 593.5 344.5 593.5 350.5 594.5 306.5 594.5 310.5 594.5 314.5 594.5 318.5 594.5 320.5 594.5 322.5 594.5 324.5 594.5 326.5 594.5 328.5 594.5 330.5 594.5 332.5 594.5 334.5 594.5 336.5 594.5 338.5 594.5 340.5 594.5 342.5 594.5 346.5 594.5 348.5 594.5 350.5 594.5 354.5 594.5 356.5 594.5 358.5 595.5 310.5 595.5 312.5 595.5 314.5 595.5 318.5 595.5 324.5 595.5 326.5 595.5 328.5 595.5 330.5 595.5 334.5 595.5 336.5 595.5 338.5 595.5 344.5 595.5 350.5 596.5 310.5 596.5 314.5 596.5 318.5 596.5 322.5 596.5 324.5 596.5 326.5 596.5 328.5 596.5 330.5 596.5 336.5 596.5 338.5 596.5 342.5 597.5 318.5 597.5 320.5 597.5 322.5 597.5 324.5 597.5 326.5 597.5 328.5 597.5 330.5 597.5 332.5 597.5 334.5 597.5 336.5 597.5 338.5 597.5 340.5 597.5 342.5 598.5 324.5 598.5 332.5 598.5 334.5 598.5 342.5 599.5 324.5 599.5 332.5 599.5 334.5 599.5 340.5 599.5 342.5 600.5 328.5 600.5 332.5 600.5 334.5 600.5 336.5 600.5 340.5 600.5 342.5 601.5 324.5 601.5 328.5 601.5 330.5 601.5 334.5 601.5 338.5 601.5 340.5 602.5 336.5 602.5 338.5 602.5 340.5 602.5 346.5 603.5 334.5 603.5 336.5 603.5 338.5 603.5 340.5 603.5 342.5 603.5 344.5 603.5 348.5 604.5 336.5 604.5 338.5 604.5 346.5 604.5 348.5 604.5 350.5 604.5 352.5 605.5 332.5 605.5 336.5 605.5 340.5 605.5 344.5 605.5 348.5 606.5 334.5 606.5 336.5 606.5 342.5 606.5 346.5 606.5 348.5 607.5 338.5 607.5 342.5 607.5 348.5 607.5 352.5 608.5 336.5 608.5 338.5 608.5 342.5 608.5 344.5 608.5 346.5 608.5 348.5 608.5 350.5 608.5 352.5 608.5 356.5 609.5 338.5 609.5 340.5 609.5 342.5 609.5 344.5 609.5 346.5 609.5 348.5 609.5 350.5 609.5 352.5 609.5 354.5 610.5 342.5 610.5 348.5 610.5 350.5 610.5 352.5 610.5 354.5 611.5 340.5 611.5 342.5 611.5 344.5 611.5 346.5 611.5 348.5 611.5 352.5 611.5 354.5 611.5 356.5 612.5 340.5 612.5 342.5 612.5 344.5 612.5 346.5 612.5 348.5 612.5 350.5 612.5 352.5 612.5 356.5 612.5 358.5 613.5 338.5 613.5 340.5 613.5 342.5 613.5 344.5 613.5 346.5 613.5 348.5 613.5 352.5 613.5 354.5 614.5 316.5 614.5 318.5 614.5 322.5 614.5 324.5 614.5 326.5 614.5 328.5 614.5 332.5 614.5 334.5 614.5 336.5 614.5 342.5 614.5 344.5 614.5 346.5 614.5 348.5 614.5 356.5 614.5 358.5 614.5 360.5 615.5 310.5 615.5 314.5 615.5 316.5 615.5 318.5 615.5 320.5 615.5 322.5 615.5 324.5 615.5 326.5 615.5 328.5 615.5 330.5 615.5 332.5 615.5 334.5 615.5 336.5 615.5 340.5 615.5 342.5 615.5 344.5 615.5 346.5 615.5 348.5 615.5 350.5 615.5 352.5 615.5 354.5 615.5 356.5 615.5 358.5 615.5 360.5 615.5 362.5 616.5 322.5 616.5 324.5 616.5 326.5 616.5 328.5 616.5 330.5 616.5 334.5 616.5 336.5 616.5 340.5 616.5 350.5 616.5 352.5 616.5 354.5 616.5 358.5 616.5 360.5 617.5 316.5 617.5 318.5 617.5 320.5 617.5 322.5 617.5 324.5 617.5 326.5 617.5 328.5 617.5 330.5 617.5 332.5 617.5 334.5 617.5 340.5 617.5 342.5 617.5 346.5 617.5 352.5 617.5 356.5 618.5 308.5 618.5 310.5 618.5 314.5 618.5 316.5 618.5 318.5 618.5 320.5 618.5 322.5 618.5 326.5 618.5 328.5 618.5 332.5 618.5 334.5 618.5 336.5 618.5 338.5 618.5 340.5 618.5 344.5 618.5 348.5 618.5 350.5 618.5 354.5 618.5 356.5 618.5 358.5 618.5 360.5 619.5 314.5 619.5 322.5 619.5 328.5 619.5 330.5 619.5 332.5 619.5 334.5 619.5 336.5 619.5 340.5 619.5 346.5 619.5 348.5 619.5 350.5 619.5 352.5 619.5 358.5 619.5 360.5 620.5 310.5 620.5 316.5 620.5 318.5 620.5 322.5 620.5 326.5 620.5 328.5 620.5 330.5 620.5 334.5 620.5 340.5 620.5 348.5 620.5 350.5 620.5 352.5 620.5 356.5 620.5 360.5 621.5 306.5 621.5 308.5 621.5 314.5 621.5 316.5 621.5 320.5 621.5 322.5 621.5 324.5 621.5 326.5 621.5 328.5 621.5 330.5 621.5 332.5 621.5 338.5 621.5 342.5 621.5 344.5 621.5 346.5 621.5 350.5 621.5 352.5 621.5 354.5 621.5 356.5 621.5 358.5 621.5 360.5 622.5 306.5 622.5 310.5 622.5 314.5 622.5 316.5 622.5 320.5 622.5 322.5 622.5 324.5 622.5 326.5 622.5 328.5 622.5 330.5 622.5 334.5 622.5 336.5 622.5 338.5 622.5 342.5 622.5 344.5 622.5 346.5 622.5 348.5 622.5 350.5 622.5 352.5 623.5 304.5 623.5 306.5 623.5 312.5 623.5 314.5 623.5 316.5 623.5 318.5 623.5 320.5 623.5 324.5 623.5 330.5 623.5 332.5 623.5 334.5 623.5 338.5 623.5 342.5 623.5 344.5 623.5 348.5 623.5 354.5 624.5 306.5 624.5 308.5 624.5 310.5 624.5 314.5 624.5 316.5 624.5 318.5 624.5 322.5 624.5 324.5 624.5 326.5 624.5 328.5 624.5 330.5 624.5 332.5 624.5 334.5 624.5 336.5 624.5 338.5 624.5 340.5 624.5 342.5 624.5 344.5 624.5 346.5 624.5 348.5 624.5 350.5 624.5 352.5 625.5 306.5 625.5 310.5 625.5 318.5 625.5 320.5 625.5 326.5 625.5 330.5 625.5 332.5 625.5 334.5 625.5 336.5 625.5 338.5 625.5 340.5 625.5 342.5 625.5 346.5 625.5 350.5 625.5 354.5 626.5 310.5 626.5 314.5 626.5 326.5 626.5 332.5 626.5 334.5 626.5 336.5 626.5 340.5 626.5 348.5 626.5 350.5 626.5 352.5 627.5 314.5 627.5 318.5 627.5 320.5 627.5 322.5 627.5 324.5 627.5 326.5 627.5 328.5 627.5 330.5 627.5 332.5 627.5 334.5 627.5 336.5 627.5 338.5 627.5 340.5 627.5 342.5 627.5 344.5 627.5 346.5 627.5 348.5 627.5 350.5 627.5 352.5 627.5 354.5 627.5 356.5 627.5 358.5 627.5 360.5 628.5 318.5 628.5 320.5 628.5 322.5 628.5 324.5 628.5 326.5 628.5 330.5 628.5 334.5 628.5 336.5 628.5 338.5 628.5 340.5 628.5 342.5 628.5 346.5 628.5 348.5 628.5 350.5 629.5 326.5 629.5 328.5 629.5 334.5 629.5 338.5 629.5 342.5 629.5 346.5 629.5 348.5 629.5 350.5 629.5 358.5 629.5 360.5 630.5 336.5 630.5 338.5 630.5 340.5 630.5 342.5 630.5 344.5 630.5 346.5 630.5 350.5 630.5 352.5 630.5 356.5 630.5 358.5 630.5 360.5 630.5 362.5 631.5 342.5 631.5 344.5 631.5 348.5 631.5 350.5 631.5 354.5 631.5 356.5 631.5 358.5 631.5 360.5 631.5 362.5 631.5 366.5 632.5 342.5 632.5 344.5 632.5 348.5 632.5 350.5 632.5 354.5 632.5 360.5 632.5 362.5 632.5 366.5 632.5 368.5 632.5 370.5 632.5 372.5 632.5 374.5 632.5 376.5 633.5 338.5 633.5 340.5 633.5 342.5 633.5 344.5 633.5 346.5 633.5 348.5 633.5 350.5 633.5 352.5 633.5 354.5 633.5 356.5 633.5 360.5 633.5 362.5 633.5 364.5 633.5 366.5 633.5 368.5 633.5 370.5 633.5 372.5 633.5 374.5 633.5 376.5 633.5 378.5 633.5 380.5 633.5 382.5 633.5 384.5 633.5 386.5 633.5 388.5 633.5 390.5 634.5 346.5 634.5 348.5 634.5 350.5 634.5 356.5 634.5 358.5 634.5 362.5 634.5 364.5 634.5 366.5 634.5 370.5 634.5 376.5 634.5 378.5 634.5 380.5 634.5 384.5 634.5 386.5 634.5 388.5 634.5 390.5 635.5 344.5 635.5 346.5 635.5 348.5 635.5 350.5 635.5 354.5 635.5 356.5 635.5 358.5 635.5 360.5 635.5 362.5 635.5 364.5 635.5 368.5 635.5 376.5 635.5 378.5 635.5 382.5 636.5 326.5 636.5 328.5 636.5 330.5 636.5 332.5 636.5 334.5 636.5 336.5 636.5 338.5 636.5 340.5 636.5 342.5 636.5 344.5 636.5 346.5 636.5 348.5 636.5 350.5 636.5 352.5 636.5 354.5 636.5 356.5 636.5 358.5 636.5 360.5 636.5 362.5 636.5 364.5 636.5 368.5 636.5 370.5 636.5 372.5 636.5 374.5 636.5 376.5 636.5 378.5 636.5 380.5 636.5 382.5 637.5 318.5 637.5 322.5 637.5 326.5 637.5 328.5 637.5 330.5 637.5 332.5 637.5 334.5 637.5 336.5 637.5 344.5 637.5 346.5 637.5 348.5 637.5 350.5 637.5 354.5 637.5 364.5 637.5 366.5 637.5 368.5 638.5 320.5 638.5 330.5 638.5 332.5 638.5 334.5 638.5 336.5 638.5 338.5 638.5 342.5 638.5 346.5 638.5 348.5 638.5 352.5 638.5 356.5 638.5 358.5 638.5 360.5 638.5 362.5 639.5 314.5 639.5 316.5 639.5 318.5 639.5 320.5 639.5 322.5 639.5 326.5 639.5 328.5 639.5 330.5 639.5 332.5 639.5 334.5 639.5 336.5 639.5 338.5 639.5 340.5 639.5 342.5 639.5 344.5 639.5 346.5 639.5 348.5 639.5 350.5 639.5 352.5 639.5 354.5 639.5 356.5 639.5 358.5 639.5 362.5 640.5 320.5 640.5 322.5 640.5 324.5 640.5 328.5 640.5 332.5 640.5 336.5 640.5 338.5 640.5 340.5 640.5 342.5 640.5 344.5 640.5 348.5 640.5 350.5 640.5 354.5 640.5 356.5 640.5 360.5 641.5 318.5 641.5 326.5 641.5 330.5 641.5 332.5 641.5 334.5 641.5 340.5 641.5 342.5 641.5 344.5 641.5 346.5 641.5 350.5 641.5 354.5 641.5 358.5 642.5 318.5 642.5 320.5 642.5 322.5 642.5 324.5 642.5 326.5 642.5 328.5 642.5 330.5 642.5 332.5 642.5 334.5 642.5 336.5 642.5 338.5 642.5 340.5 642.5 342.5 642.5 344.5 642.5 346.5 642.5 348.5 642.5 350.5 642.5 352.5 642.5 354.5 642.5 358.5 642.5 362.5 642.5 364.5 643.5 324.5 643.5 330.5 643.5 336.5 643.5 338.5 643.5 340.5 643.5 342.5 643.5 344.5 643.5 346.5 643.5 350.5 643.5 352.5 643.5 354.5 643.5 358.5 643.5 360.5 643.5 362.5 643.5 364.5 644.5 320.5 644.5 322.5 644.5 324.5 644.5 326.5 644.5 336.5 644.5 338.5 644.5 340.5 644.5 342.5 644.5 344.5 644.5 346.5 644.5 350.5 644.5 352.5 644.5 354.5 644.5 356.5 644.5 360.5 645.5 322.5 645.5 324.5 645.5 326.5 645.5 328.5 645.5 330.5 645.5 332.5 645.5 334.5 645.5 336.5 645.5 338.5 645.5 340.5 645.5 342.5 645.5 344.5 645.5 346.5 645.5 348.5 645.5 350.5 645.5 352.5 645.5 354.5 645.5 356.5 645.5 358.5 645.5 360.5 645.5 362.5 645.5 364.5 645.5 366.5 646.5 326.5 646.5 328.5 646.5 332.5 646.5 334.5 646.5 336.5 646.5 338.5 646.5 340.5 646.5 342.5 646.5 344.5 646.5 346.5 646.5 348.5 646.5 354.5 646.5 356.5 646.5 358.5 646.5 360.5 646.5 362.5 647.5 324.5 647.5 326.5 647.5 330.5 647.5 334.5 647.5 336.5 647.5 338.5 647.5 340.5 647.5 342.5 647.5 344.5 647.5 356.5 648.5 318.5 648.5 320.5 648.5 322.5 648.5 324.5 648.5 326.5 648.5 328.5 648.5 330.5 648.5 332.5 648.5 334.5 648.5 336.5 648.5 338.5 648.5 340.5 648.5 342.5 648.5 344.5 648.5 346.5 648.5 348.5 648.5 350.5 648.5 352.5 648.5 354.5 648.5 356.5 648.5 358.5 648.5 362.5 649.5 322.5 649.5 324.5 649.5 326.5 649.5 328.5 649.5 330.5 649.5 332.5 649.5 336.5 649.5 340.5 649.5 342.5 649.5 346.5 649.5 348.5 649.5 350.5 649.5 356.5 649.5 358.5 650.5 316.5 650.5 322.5 650.5 324.5 650.5 326.5 650.5 330.5 650.5 334.5 650.5 338.5 650.5 340.5 650.5 348.5 650.5 354.5 650.5 360.5 651.5 316.5 651.5 318.5 651.5 320.5 651.5 322.5 651.5 324.5 651.5 326.5 651.5 330.5 651.5 332.5 651.5 334.5 651.5 336.5 651.5 338.5 651.5 340.5 651.5 346.5 651.5 350.5 651.5 352.5 651.5 356.5 651.5 358.5 651.5 360.5 652.5 312.5 652.5 316.5 652.5 318.5 652.5 322.5 652.5 324.5 652.5 326.5 652.5 328.5 652.5 330.5 652.5 332.5 652.5 334.5 652.5 336.5 652.5 338.5 652.5 340.5 652.5 342.5 652.5 354.5 653.5 312.5 653.5 314.5 653.5 316.5 653.5 320.5 653.5 322.5 653.5 324.5 653.5 328.5 653.5 330.5 653.5 336.5 653.5 338.5 653.5 340.5 653.5 348.5 653.5 352.5 653.5 354.5 653.5 356.5 653.5 360.5 654.5 304.5 654.5 308.5 654.5 310.5 654.5 312.5 654.5 314.5 654.5 316.5 654.5 318.5 654.5 320.5 654.5 322.5 654.5 324.5 654.5 326.5 654.5 328.5 654.5 330.5 654.5 332.5 654.5 334.5 654.5 336.5 654.5 338.5 654.5 340.5 654.5 342.5 654.5 344.5 654.5 346.5 654.5 348.5 654.5 350.5 654.5 352.5 654.5 354.5 654.5 356.5 654.5 358.5 654.5 360.5 655.5 304.5 655.5 306.5 655.5 310.5 655.5 312.5 655.5 314.5 655.5 322.5 655.5 324.5 655.5 326.5 655.5 328.5 655.5 330.5 655.5 336.5 655.5 338.5 655.5 344.5 655.5 346.5 655.5 348.5 655.5 350.5 655.5 354.5 655.5 356.5 655.5 360.5 656.5 312.5 656.5 314.5 656.5 318.5 656.5 322.5 656.5 324.5 656.5 328.5 656.5 330.5 656.5 334.5 656.5 338.5 656.5 340.5 656.5 346.5 656.5 348.5 656.5 350.5 656.5 352.5 656.5 354.5 656.5 356.5 656.5 358.5 656.5 360.5 656.5 364.5 657.5 310.5 657.5 312.5 657.5 314.5 657.5 316.5 657.5 318.5 657.5 320.5 657.5 322.5 657.5 324.5 657.5 326.5 657.5 328.5 657.5 330.5 657.5 332.5 657.5 334.5 657.5 336.5 657.5 338.5 657.5 340.5 657.5 342.5 657.5 344.5 657.5 346.5 657.5 348.5 657.5 350.5 657.5 352.5 657.5 354.5 657.5 356.5 657.5 358.5 657.5 360.5 657.5 362.5 657.5 364.5 657.5 366.5 657.5 368.5 657.5 370.5 657.5 372.5 658.5 318.5 658.5 320.5 658.5 334.5 658.5 336.5 658.5 340.5 658.5 342.5 658.5 344.5 658.5 350.5 658.5 352.5 658.5 356.5 658.5 360.5 658.5 368.5 658.5 370.5 658.5 372.5 659.5 322.5 659.5 328.5 659.5 330.5 659.5 334.5 659.5 336.5 659.5 338.5 659.5 340.5 659.5 348.5 659.5 354.5 659.5 356.5 659.5 358.5 659.5 360.5 659.5 362.5 659.5 364.5 659.5 368.5 659.5 370.5 660.5 330.5 660.5 332.5 660.5 334.5 660.5 336.5 660.5 338.5 660.5 340.5 660.5 342.5 660.5 344.5 660.5 346.5 660.5 348.5 660.5 350.5 660.5 352.5 660.5 354.5 660.5 356.5 660.5 358.5 660.5 360.5 660.5 362.5 660.5 364.5 660.5 370.5 661.5 336.5 661.5 340.5 661.5 344.5 661.5 346.5 661.5 348.5 661.5 354.5 661.5 358.5 662.5 342.5 662.5 344.5 662.5 354.5 662.5 356.5 662.5 366.5 662.5 368.5 662.5 370.5 663.5 336.5 663.5 338.5 663.5 340.5 663.5 342.5 663.5 344.5 663.5 346.5 663.5 348.5 663.5 350.5 663.5 352.5 663.5 354.5 663.5 356.5 663.5 360.5 663.5 362.5 664.5 336.5 664.5 338.5 664.5 342.5 664.5 346.5 664.5 348.5 664.5 350.5 664.5 354.5 664.5 356.5 664.5 358.5 664.5 360.5 664.5 362.5 665.5 340.5 665.5 342.5 665.5 348.5 665.5 350.5 665.5 352.5 665.5 354.5 665.5 356.5 665.5 358.5 665.5 360.5 665.5 364.5 666.5 338.5 666.5 340.5 666.5 342.5 666.5 344.5 666.5 346.5 666.5 348.5 666.5 350.5 666.5 356.5 666.5 358.5 666.5 360.5 666.5 362.5 666.5 364.5 667.5 338.5 667.5 340.5 667.5 342.5 667.5 344.5 667.5 346.5 667.5 350.5 667.5 352.5 667.5 356.5 667.5 360.5 667.5 362.5 668.5 338.5 668.5 344.5 668.5 346.5 668.5 348.5 668.5 350.5 668.5 354.5 668.5 362.5 668.5 364.5 669.5 338.5 669.5 340.5 669.5 342.5 669.5 344.5 669.5 346.5 669.5 348.5 669.5 352.5 669.5 354.5 669.5 356.5 669.5 358.5 669.5 360.5 669.5 362.5 669.5 364.5 669.5 366.5 670.5 344.5 670.5 352.5 670.5 358.5 670.5 360.5 671.5 334.5 671.5 338.5 671.5 342.5 671.5 344.5 671.5 346.5 671.5 348.5 671.5 354.5 671.5 356.5 671.5 360.5 671.5 362.5 671.5 364.5 672.5 338.5 672.5 340.5 672.5 342.5 672.5 344.5 672.5 346.5 672.5 348.5 672.5 350.5 672.5 352.5 672.5 354.5 672.5 356.5 672.5 358.5 672.5 360.5 672.5 362.5 672.5 364.5 673.5 338.5 673.5 340.5 673.5 342.5 673.5 346.5 673.5 350.5 673.5 352.5 673.5 354.5 673.5 356.5 673.5 358.5 674.5 336.5 674.5 340.5 674.5 342.5 674.5 344.5 674.5 348.5 674.5 350.5 674.5 352.5 674.5 354.5 674.5 356.5 674.5 360.5 674.5 362.5 674.5 366.5 675.5 324.5 675.5 326.5 675.5 328.5 675.5 330.5 675.5 332.5 675.5 334.5 675.5 336.5 675.5 338.5 675.5 340.5 675.5 342.5 675.5 344.5 675.5 346.5 675.5 348.5 675.5 350.5 675.5 352.5 675.5 354.5 675.5 356.5 675.5 358.5 675.5 362.5 675.5 364.5 675.5 366.5 675.5 368.5 676.5 318.5 676.5 322.5 676.5 326.5 676.5 328.5 676.5 334.5 676.5 336.5 676.5 340.5 676.5 344.5 676.5 348.5 676.5 354.5 676.5 356.5 676.5 362.5 676.5 368.5 677.5 304.5 677.5 306.5 677.5 310.5 677.5 312.5 677.5 314.5 677.5 318.5 677.5 320.5 677.5 322.5 677.5 328.5 677.5 332.5 677.5 334.5 677.5 336.5 677.5 338.5 677.5 344.5 677.5 350.5 677.5 354.5 677.5 358.5 677.5 362.5 677.5 364.5 677.5 366.5 677.5 368.5 677.5 372.5 677.5 380.5 678.5 306.5 678.5 308.5 678.5 312.5 678.5 314.5 678.5 318.5 678.5 320.5 678.5 322.5 678.5 324.5 678.5 326.5 678.5 328.5 678.5 330.5 678.5 332.5 678.5 336.5 678.5 340.5 678.5 342.5 678.5 344.5 678.5 348.5 678.5 350.5 678.5 352.5 678.5 354.5 678.5 356.5 678.5 358.5 678.5 360.5 678.5 364.5 678.5 366.5 678.5 368.5 678.5 370.5 678.5 372.5 678.5 374.5 678.5 376.5 678.5 378.5 678.5 380.5 678.5 382.5 678.5 384.5 678.5 388.5 678.5 390.5 679.5 312.5 679.5 316.5 679.5 318.5 679.5 320.5 679.5 324.5 679.5 326.5 679.5 330.5 679.5 332.5 679.5 334.5 679.5 340.5 679.5 344.5 679.5 346.5 679.5 348.5 679.5 350.5 679.5 352.5 679.5 356.5 679.5 358.5 679.5 360.5 679.5 364.5 679.5 366.5 679.5 370.5 679.5 380.5 679.5 382.5 680.5 314.5 680.5 318.5 680.5 320.5 680.5 328.5 680.5 346.5 680.5 348.5 680.5 354.5 680.5 356.5 680.5 358.5 680.5 364.5 680.5 366.5 680.5 368.5 680.5 372.5 680.5 376.5 680.5 378.5 680.5 380.5 680.5 382.5 680.5 386.5 681.5 314.5 681.5 318.5 681.5 320.5 681.5 322.5 681.5 324.5 681.5 326.5 681.5 328.5 681.5 330.5 681.5 332.5 681.5 334.5 681.5 336.5 681.5 338.5 681.5 340.5 681.5 342.5 681.5 344.5 681.5 346.5 681.5 348.5 681.5 350.5 681.5 352.5 681.5 354.5 681.5 356.5 681.5 358.5 681.5 360.5 681.5 362.5 681.5 364.5 681.5 366.5 681.5 368.5 681.5 370.5 681.5 372.5 681.5 374.5 681.5 376.5 681.5 378.5 681.5 380.5 681.5 382.5 681.5 384.5 682.5 310.5 682.5 312.5 682.5 316.5 682.5 320.5 682.5 322.5 682.5 326.5 682.5 328.5 682.5 330.5 682.5 334.5 682.5 336.5 682.5 338.5 682.5 342.5 682.5 344.5 682.5 346.5 682.5 350.5 682.5 356.5 682.5 360.5 682.5 362.5 682.5 366.5 682.5 368.5 682.5 370.5 682.5 372.5 682.5 374.5 682.5 376.5 682.5 378.5 682.5 380.5 682.5 384.5 683.5 320.5 683.5 326.5 683.5 328.5 683.5 330.5 683.5 332.5 683.5 336.5 683.5 338.5 683.5 340.5 683.5 342.5 683.5 348.5 683.5 350.5 683.5 358.5 683.5 364.5 683.5 370.5 683.5 378.5 683.5 380.5 684.5 316.5 684.5 318.5 684.5 320.5 684.5 322.5 684.5 324.5 684.5 326.5 684.5 328.5 684.5 332.5 684.5 334.5 684.5 336.5 684.5 338.5 684.5 340.5 684.5 342.5 684.5 344.5 684.5 346.5 684.5 348.5 684.5 350.5 684.5 352.5 684.5 354.5 684.5 356.5 684.5 358.5 684.5 360.5 684.5 362.5 684.5 364.5 684.5 366.5 684.5 368.5 684.5 370.5 684.5 372.5 684.5 374.5 684.5 376.5 685.5 322.5 685.5 324.5 685.5 328.5 685.5 332.5 685.5 334.5 685.5 336.5 685.5 338.5 685.5 352.5 685.5 354.5 685.5 356.5 685.5 358.5 685.5 360.5 685.5 362.5 685.5 364.5 685.5 366.5 685.5 368.5 685.5 372.5 686.5 320.5 686.5 322.5 686.5 324.5 686.5 326.5 686.5 328.5 686.5 330.5 686.5 338.5 686.5 340.5 686.5 344.5 686.5 346.5 686.5 350.5 686.5 352.5 686.5 354.5 686.5 356.5 686.5 362.5 686.5 364.5 686.5 366.5 686.5 368.5 687.5 326.5 687.5 328.5 687.5 330.5 687.5 332.5 687.5 334.5 687.5 338.5 687.5 342.5 687.5 344.5 687.5 346.5 687.5 348.5 687.5 350.5 687.5 352.5 687.5 354.5 687.5 356.5 687.5 358.5 687.5 360.5 687.5 362.5 687.5 364.5 687.5 366.5 687.5 370.5 688.5 328.5 688.5 332.5 688.5 334.5 688.5 342.5 688.5 344.5 688.5 348.5 688.5 350.5 688.5 352.5 688.5 354.5 688.5 356.5 688.5 360.5 688.5 362.5 688.5 364.5 688.5 366.5 689.5 334.5 689.5 342.5 689.5 346.5 689.5 348.5 689.5 352.5 689.5 354.5 689.5 356.5 689.5 366.5 689.5 368.5 689.5 370.5 690.5 336.5 690.5 338.5 690.5 340.5 690.5 344.5 690.5 346.5 690.5 348.5 690.5 350.5 690.5 352.5 690.5 354.5 690.5 356.5 690.5 358.5 690.5 360.5 690.5 362.5 690.5 364.5 690.5 366.5 690.5 368.5 690.5 370.5 691.5 342.5 691.5 344.5 691.5 346.5 691.5 350.5 691.5 352.5 691.5 354.5 691.5 356.5 691.5 360.5 691.5 364.5 691.5 366.5 691.5 368.5 691.5 370.5 692.5 338.5 692.5 342.5 692.5 346.5 692.5 348.5 692.5 352.5 692.5 356.5 692.5 366.5 692.5 368.5 693.5 334.5 693.5 336.5 693.5 338.5 693.5 340.5 693.5 342.5 693.5 344.5 693.5 346.5 693.5 348.5 693.5 350.5 693.5 352.5 693.5 354.5 693.5 356.5 693.5 360.5 693.5 366.5 693.5 368.5 693.5 370.5 694.5 330.5 694.5 336.5 694.5 338.5 694.5 340.5 694.5 342.5 694.5 348.5 694.5 352.5 694.5 354.5 694.5 356.5 694.5 360.5 694.5 362.5 694.5 364.5 694.5 366.5 694.5 368.5 694.5 370.5 695.5 336.5 695.5 342.5 695.5 344.5 695.5 346.5 695.5 350.5 695.5 352.5 695.5 354.5 695.5 356.5 695.5 360.5 695.5 364.5 695.5 366.5 695.5 368.5 696.5 330.5 696.5 332.5 696.5 334.5 696.5 336.5 696.5 338.5 696.5 340.5 696.5 342.5 696.5 344.5 696.5 346.5 696.5 348.5 696.5 350.5 696.5 352.5 696.5 354.5 696.5 356.5 696.5 358.5 696.5 360.5 696.5 362.5 696.5 364.5 696.5 366.5 696.5 368.5 696.5 370.5 696.5 372.5 696.5 374.5 696.5 376.5 697.5 336.5 697.5 340.5 697.5 342.5 697.5 346.5 697.5 352.5 697.5 354.5 697.5 356.5 697.5 360.5 697.5 362.5 697.5 364.5 697.5 366.5 697.5 370.5 697.5 376.5 697.5 378.5 697.5 382.5 698.5 348.5 698.5 350.5 698.5 352.5 698.5 356.5 698.5 362.5 698.5 366.5 698.5 368.5 698.5 370.5 698.5 376.5 698.5 378.5 699.5 344.5 699.5 348.5 699.5 350.5 699.5 354.5 699.5 356.5 699.5 358.5 699.5 360.5 699.5 362.5 699.5 364.5 699.5 366.5 699.5 368.5 699.5 370.5 699.5 376.5 699.5 378.5 699.5 380.5 700.5 350.5 700.5 352.5 700.5 354.5 700.5 356.5 700.5 360.5 700.5 362.5 700.5 364.5 700.5 366.5 700.5 368.5 700.5 370.5 700.5 372.5 700.5 374.5 700.5 378.5 701.5 354.5 701.5 356.5 701.5 358.5 701.5 360.5 701.5 362.5 701.5 368.5 701.5 370.5 701.5 372.5 701.5 374.5 701.5 376.5 702.5 350.5 702.5 352.5 702.5 354.5 702.5 356.5 702.5 358.5 702.5 360.5 702.5 362.5 702.5 366.5 702.5 368.5 702.5 370.5 702.5 372.5 702.5 374.5 703.5 356.5 703.5 358.5 703.5 372.5 703.5 376.5 704.5 354.5 704.5 362.5 704.5 366.5 704.5 368.5 704.5 370.5 704.5 372.5 704.5 374.5 705.5 350.5 705.5 352.5 705.5 354.5 705.5 362.5 705.5 364.5 705.5 366.5 705.5 368.5 705.5 370.5 705.5 372.5 705.5 374.5 705.5 376.5 705.5 378.5 705.5 382.5 706.5 352.5 706.5 358.5 706.5 360.5 706.5 362.5 706.5 364.5 706.5 366.5 706.5 368.5 706.5 370.5 706.5 372.5 706.5 374.5 706.5 378.5 706.5 380.5 706.5 382.5 707.5 360.5 707.5 366.5 707.5 370.5 707.5 372.5 707.5 378.5 707.5 380.5 708.5 354.5 708.5 356.5 708.5 358.5 708.5 360.5 708.5 362.5 708.5 366.5 708.5 368.5 708.5 370.5 708.5 376.5 708.5 378.5 708.5 382.5 709.5 350.5 709.5 352.5 709.5 354.5 709.5 356.5 709.5 358.5 709.5 364.5 709.5 366.5 709.5 368.5 709.5 370.5 709.5 372.5 709.5 374.5 709.5 376.5 710.5 352.5 710.5 354.5 710.5 358.5 710.5 360.5 710.5 362.5 710.5 364.5 710.5 366.5 710.5 368.5 710.5 370.5 710.5 376.5 710.5 380.5 711.5 348.5 711.5 350.5 711.5 352.5 711.5 354.5 711.5 356.5 711.5 358.5 711.5 360.5 711.5 362.5 711.5 364.5 711.5 366.5 711.5 368.5 711.5 370.5 711.5 372.5 711.5 374.5 711.5 376.5 712.5 360.5 712.5 366.5 712.5 370.5 713.5 348.5 713.5 352.5 713.5 354.5 713.5 358.5 713.5 360.5 713.5 362.5 714.5 344.5 714.5 346.5 714.5 348.5 714.5 350.5 714.5 352.5 714.5 356.5 714.5 358.5 714.5 360.5 714.5 364.5 714.5 366.5 715.5 346.5 715.5 350.5 715.5 354.5 715.5 358.5 715.5 364.5 716.5 340.5 716.5 344.5 716.5 348.5 716.5 352.5 716.5 354.5 716.5 358.5 716.5 362.5 716.5 364.5 717.5 338.5 717.5 340.5 717.5 342.5 717.5 344.5 717.5 346.5 717.5 348.5 717.5 350.5 717.5 352.5 717.5 354.5 717.5 356.5 717.5 358.5 717.5 360.5 717.5 362.5 718.5 334.5 718.5 340.5 718.5 342.5 718.5 344.5 718.5 346.5 718.5 354.5 718.5 360.5 718.5 364.5 719.5 330.5 719.5 332.5 719.5 334.5 719.5 336.5 719.5 338.5 719.5 342.5 719.5 344.5 719.5 346.5 719.5 348.5 719.5 350.5 719.5 354.5 719.5 356.5 719.5 358.5 719.5 360.5 719.5 362.5 720.5 332.5 720.5 334.5 720.5 338.5 720.5 340.5 720.5 342.5 720.5 344.5 720.5 346.5 720.5 348.5 720.5 350.5 720.5 352.5 720.5 354.5 720.5 356.5 720.5 358.5 720.5 360.5 721.5 334.5 721.5 336.5 721.5 340.5 721.5 342.5 721.5 344.5 721.5 348.5 721.5 350.5 722.5 332.5 722.5 334.5 722.5 342.5 722.5 344.5 722.5 348.5 722.5 356.5 723.5 334.5 723.5 336.5 723.5 338.5 723.5 342.5 723.5 344.5 723.5 346.5 723.5 348.5 723.5 350.5 723.5 352.5 723.5 356.5 723.5 360.5 723.5 362.5 724.5 334.5 724.5 336.5 724.5 338.5 724.5 340.5 724.5 342.5 724.5 344.5 724.5 348.5 724.5 354.5 724.5 358.5 724.5 360.5 724.5 362.5 725.5 332.5 725.5 336.5 725.5 342.5 725.5 348.5 725.5 350.5 725.5 352.5 725.5 354.5 725.5 356.5 725.5 358.5 725.5 360.5 726.5 334.5 726.5 336.5 726.5 338.5 726.5 342.5 726.5 350.5 726.5 352.5 726.5 354.5 726.5 358.5 726.5 360.5 726.5 362.5 727.5 338.5 727.5 342.5 727.5 344.5 727.5 346.5 727.5 348.5 727.5 360.5 728.5 336.5 728.5 338.5 728.5 340.5 728.5 342.5 728.5 344.5 728.5 346.5 728.5 356.5 728.5 360.5 728.5 364.5 729.5 338.5 729.5 340.5 729.5 342.5 729.5 346.5 729.5 348.5 729.5 350.5 729.5 352.5 729.5 354.5 729.5 356.5 729.5 358.5 729.5 362.5 729.5 364.5 730.5 338.5 730.5 340.5 730.5 342.5 730.5 344.5 730.5 350.5 730.5 352.5 730.5 354.5 730.5 356.5 730.5 358.5 731.5 336.5 731.5 346.5 731.5 350.5 731.5 354.5 731.5 356.5 732.5 336.5 732.5 338.5 732.5 340.5 732.5 342.5 732.5 344.5 732.5 346.5 732.5 348.5 732.5 350.5 732.5 352.5 732.5 354.5 732.5 356.5 732.5 358.5 732.5 360.5 732.5 362.5 733.5 340.5 733.5 344.5 733.5 346.5 733.5 350.5 733.5 354.5 733.5 356.5 733.5 358.5 733.5 360.5 733.5 362.5 734.5 336.5 734.5 342.5 734.5 344.5 734.5 350.5 734.5 354.5 734.5 358.5 734.5 360.5 734.5 362.5 734.5 364.5 734.5 366.5 734.5 370.5 735.5 338.5 735.5 340.5 735.5 342.5 735.5 344.5 735.5 346.5 735.5 348.5 735.5 350.5 735.5 352.5 735.5 354.5 735.5 356.5 735.5 358.5 735.5 360.5 735.5 362.5 735.5 364.5 735.5 366.5 735.5 368.5 735.5 372.5 735.5 374.5 735.5 376.5 736.5 344.5 736.5 346.5 736.5 350.5 736.5 352.5 736.5 356.5 736.5 358.5 736.5 360.5 736.5 366.5 736.5 370.5 736.5 372.5 736.5 374.5 737.5 356.5 737.5 360.5 737.5 362.5 737.5 364.5 737.5 366.5 737.5 372.5 737.5 376.5 737.5 378.5 738.5 356.5 738.5 358.5 738.5 360.5 738.5 362.5 738.5 364.5 738.5 366.5 738.5 368.5 738.5 370.5 738.5 372.5 738.5 374.5 738.5 376.5 738.5 378.5 739.5 354.5 739.5 356.5 739.5 358.5 739.5 360.5 739.5 362.5 739.5 372.5 739.5 374.5 739.5 376.5 740.5 356.5 740.5 358.5 740.5 360.5 740.5 366.5 740.5 372.5 740.5 374.5 741.5 350.5 741.5 352.5 741.5 354.5 741.5 356.5 741.5 360.5"/><path fill="none" stroke="none" marker-start="url(#m)" marker-mid="url(#m)" marker-end="url(#m)" d="M205.8 367.7 207.7 371.3 217.4 375.6 221.1 369.2 224.8 375 257.2 375 262.9 380.3 178.2 397.5 179.3 412 232.4 412 251.1 414.5 254.3 414.5 261.1 413 178.2 378.5 198.5 371.3 180.3 389.3 192.3 390.8 246.4 389 192.1 387.1 180.5 385.6 201.4 311.1 200.6 313.2 205.3 311.3 204.6 315.6 214.7 309.4 215.5 311.3 223.5 309.4 225.2 311.3 228.6 311.1 228.6 313.2 225 316.4 232.4 320.3 229.2 321.9 219.1 323.5 234.5 328.7 228.8 328.7 238.5 341.4 241.7 345.1 239.3 313.2 261.1 313.2 253.2 316.4 253.2 318.5 250.3 320.3 253.2 323.5 250.3 327.4 267.4 327.4 267.4 332.4 267.4 334.5 233.2 336.6 180.5 322.9 181.4 297.3 198.2 293.6 204.8 293.6 212.1 290.1 212.1 299.2 212.1 304 212.1 306.1 201.4 307.7 228 300.6 228.6 306.1 250.3 286.6 254.3 288.5 258.1 288.5 251.1 291.8 253.5 291.8 294.5 369.4 294.5 376.4 282.9 385.3 327.7 366.1 357.5 408.2 303.1 404.5 300.1 408.2 282.1 410.1 320.6 404.5 319.4 410.1 319.8 411.9 330.9 406.4 334 410.1 343.5 411.9 349.5 406.4 349.3 411.9 351.2 411.9 359.3 413.5 293.7 413.3 313.7 413.3 316.6 413.3 323.5 413.3 357.5 401.9 276.1 394 278.2 285 301.7 286.6 314.5 286.6 319.8 286.6 330.9 285 340 285 339.8 288.5 354.6 285 295.3 290.1 308.2 290.1 282.2 293.6 297.7 293.6 311.4 293.6 338.6 293.6 285.9 297.3 293.7 297.3 300 299.2 353.3 297.3 363.5 297.3 301 304.3 310.5 304.3 317.7 302.4 357.3 307.7 359.6 309.4 282.2 311.3 351.2 313.1 299.2 316.4 364.1 318.5 359.3 320.3 317.5 321.9 316.4 323.5 333.3 323.5 337.5 321.9 341.5 323.5 277.4 328.7 290.3 328.7 283.8 323.5 283.8 325.4 278.7 332.4 283.8 330.3 283.8 332.4 283.8 334.5 283.8 336.6 290.3 336.1 294.5 337.7 357.3 328.7 352.5 339.3 343.5 327.1 347.7 328.7 298.7 331.4 370.5 364.3 382.3 369.4 382.3 371.3 401.3 378.5 367.2 406.4 366.1 412 368.4 412 379 413.3 384.9 412 387 412 399.2 410.1 405.1 406.1 406.4 408.2 413.7 413.3 429.5 413.3 433.4 410.1 444.3 412 448.5 410.1 451.7 413.3 362.1 384 433.8 367.7 423.2 397.2 379 290.1 393.5 288.5 399.2 293.6 406.4 285 431.7 286.3 433.8 285.5 451.5 290.1 444.3 297.3 448.7 297.3 413.7 300.6 422.5 299.2 396.4 307.7 396.4 311.3 459.1 307.7 377.2 315 405.3 316.4 409.5 323.5 429.5 323.5 417.4 330.5 455.5 330.5 449.6 334 450.8 339.3 422.2 311.3 424.5 309.2 422.2 316.6 422.2 320.3 376.9 321.9 383.2 320.3 386.3 320.3 395.3 316.4 442.2 334 465.5 371.3 480.8 381.9 501.4 373.2 491.4 394 499.3 397.5 545.4 388.7 479.4 403 468.7 406.4 511.4 399.3 506.6 403 506.6 406.4 509.8 406.4 515.1 406.1 519.3 401.4 522 399.3 521.4 403 526.7 403 524.5 406.1 528.8 405.1 522.4 408.2 527.7 408.2 543 401.4 547.7 404.5 553.5 406.4 539.3 406.4 541.4 408.2 496.6 408.2 499 408.2 494.8 410.1 504.5 410.1 512.4 409.8 516.1 410.1 471.9 409.8 475 412 478.2 413.3 460.8 413.3 465.5 413.3 485.6 413.3 489.2 413.3 496.6 413.3 501.4 413.3 514 412.4 524.5 412.4 530.9 410.3 535.1 410.3 539.3 410.3 544 410.3 546.7 412.4 533 413.3 523.5 373.5 538.8 376.1 548.6 371.3 463.4 288.5 467.4 288.5 465.5 291.8 476.4 285 492.4 290.1 494.2 300.6 478.4 307.7 521.4 290.1 523.5 291.8 536.7 290.1 538.5 288.5 529.4 309.4 511.4 311.1 508.5 313.2 474 328.7 478.7 328.7 491.4 330.5 561.6 365.8 571.6 360.5 557.9 392.5 580 392.5 596.9 394.3 558.4 404.3 563.2 403 569.5 404.3 572.7 406.4 574.8 406.4 556.3 408.5 558.4 408.5 562.1 408.5 583.5 408.3 589.5 406.4 595.8 404.3 598.3 401.1 600.6 404.3 608 404.3 610.6 401.1 612.2 399 617.4 401.4 602.7 408.3 604.8 408.3 609.5 408.3 624.3 406.4 626.9 408.3 630.1 404.3 633.5 403 633.2 392.7 614.5 370 645.4 369.5 593.7 362.7 559.5 276.3 562.4 281.3 561.4 288.5 563.2 290.3 562.1 291.9 563.5 299.2 550.5 295.2 567.4 278 573.2 276.3 574.4 283.2 574.4 286.1 579.7 290.3 586.4 275 587.9 279.7 588.5 283.2 586.4 285.5 594.3 293.8 594.3 299 594.3 302.6 561.8 315 561.8 317.1 602.2 276.3 604.3 276.3 602.7 281.3 605.8 283.4 608 284.5 610.1 285 613.2 286.4 603.2 286.1 609 290.3 603.2 293.4 603.2 295.2 609 295.2 611.1 297.7 612.2 300.3 614.5 279.7 617.4 279.7 628.2 277.6 628.5 281.3 630.6 285 629 286.4 630.3 293.4 633.8 291.9 629.6 297.1 628.5 300.3 623.8 297.1 624.8 301.9 617.4 308.2 633.8 312.9 630.1 315 632.2 320.3 643.8 291.9 648 288.7 649.1 285 646.9 309.2 649.1 310.8 648.5 315 641.1 312.9 660.3 385.3 684.2 390.6 692.4 401.4 661.3 404.3 671.9 406.2 656.8 408 659.8 409.5 671.3 409.5 695.1 409.5 704.5 409.5 709.3 409.5 711.4 408.3 721.4 408.3 730.9 409.5 707.2 388.7 709.5 344.7 709.5 348.2 678.7 394.8 697.2 387.4 738.8 383.2 657.9 276.3 719.4 278 662.4 285 671.6 285 680.8 285 693.3 283.2 695.8 285 659.5 290.3 651.5 291.9 654.7 294 661 294 663.1 293.8 677.9 290.3 685.6 288.5 689 288.5 685 290.3 686.9 291.3 692.4 290.3 667.3 297.1 670.8 299.2 673.5 299.2 671.9 304.3 671.3 309.2 672.2 315 685.6 299.2 685.6 304.3 686.1 306.6 692.2 295 695.1 297.1 696.6 302.4 702.7 297.1 705.1 300.3 701.5 302.4 701.5 304.5 710.3 297.1 716.4 297.1 708.2 304.3 713.5 304.3 730.9 295.2 734 307.9 701.9 307.7 703.2 309.6 708.8 311.4 711.4 311.4 713.5 313.5 704.5 318.2 709.3 320.3 708.8 323.5 699.6 321.9 691.4 321.9 694.5 320.3 695.6 321.9 690.5 315 694.3 315 691.4 325.6 696.6 325.6 694.5 327.7 717.7 325.4 731.4 320.3 731.4 321.9 737.3 323.5 666.6 328.7 672.6 328.7 670.8 332.4 688.2 311.4 707.7 336.1 710.3 339.3 181.6 419 189.5 427.9 191.9 425.8 195.8 424.2 198.2 422.3 201.4 419 202.7 417.1 198.2 433.2 213.4 417.2 213.7 424.2 228.2 420.5 239.3 427.9 250.3 419 258 417.2 256.9 431.4 250.3 443.4 278.2 415.6 287.1 415.6 282.1 419 284 420.5 286.1 420.5 296.1 415.6 299.2 415.6 295.6 420.5 297.7 419 300.8 420.5 301.4 419 305.6 425.8 299.2 436.4 308.2 415.6 310.5 419 311.4 422.3 317.7 417.4 319.8 419 320.8 420.5 322.4 417.4 324.5 417.4 317.5 433.2 316.4 443.4 318.7 443.4 331.4 417.4 333 415.6 334.5 424.2 338.6 420.5 340 417.4 340.7 415.6 341.7 419 345.6 415.6 357.7 417.4 359.3 419 357.5 420.5 353.5 422.3 357.5 427.9 354.6 443.4 348.2 445.5 364.1 445.5 364.1 415.6 363.5 420 390.8 422.3 386.3 433.2 422.4 415.6 424.8 417.4 422.4 419 422.4 422.3 424.3 422.3 422.4 425.8 431.4 415.6 442.7 415.6 449 445.5 476.1 415.6 463.4 415.6 467.4 417.4 468.5 422.3 491.9 424.4 495.6 417.4 498.7 415.6 500.3 422.3 504.5 413.5 511.4 424.4 508.2 415.1 509.5 417 514.5 417 519 415.1 521.5 413.2 521.2 417 527.2 413.8 536.7 413.2 538.6 413.2 541.1 412.5 543 413.8 526.6 415.1 529.7 417 535.4 417 537.3 415.1 539.8 415.1 540.5 417 544.3 417 543 415.4 546.8 415.4 549.9 415.1 551.2 415.1 553.7 415.1 556.3 415.1 555 413.2 557.5 413.2 559.4 413.2 550.6 424.2 564.5 410 562.6 413.2 566.4 413.2 561.3 415.1 563.9 415.1 567.6 415.1 563.2 417.3 570.2 417.3 572.1 415.1 574 415.1 576.5 415.1 573.3 419.2 574.6 417.3 576.5 417.3 571.4 411.6 573.3 411.6 575.2 413.2 577.1 413.2 579 410 580.9 413.2 587.9 411.6 590.4 413.2 592.3 411.9 586 423.9 598.6 411.6 601.8 411.6 606.8 411.6 609.4 411.9 596.7 415.1 598.6 415.1 600.5 415.1 603.7 413.2 606.2 413.2 608.7 413.2 604.3 417 607.5 417 612.5 417.3 614.1 410 614.1 420.4 616.6 414.9 616.6 417.1 619.6 417.1 620.3 413.4 620.3 415.3 625.5 410.5 624.8 415.3 627.3 413.4 629.5 413.4 628.4 415.3 630.7 415.3 632.9 415.3 625.5 419 629.5 419 631.4 417.1 634 420.4 629.5 424.4 622.5 429.3 624.8 429.3 635.8 441.5 639.9 412 638.8 419 641.3 417.1 643.9 419 649.5 415.3 662.4 412 657.9 415.3 659.8 415.3 663.1 417.5 667.2 415.3 671.6 413.4 673.1 415.3 675.5 412 657.9 427.8 657.9 431.5 678.6 431.5 679 414.9 679 418.6 680.5 412.3 684.6 415.3 686.1 413.4 687.9 413.4 685.7 419 687.5 417.1 689.4 419 692.3 417.1 691.2 422.3 693.4 413.1 693.8 421.9 695.3 424.5 695.7 417.1 697.1 419 698.2 420.4 699.7 412 701.2 417.1 701.2 420.4 702.7 417.1 704.9 414.9 704.9 419 707.8 413.1 708.6 414.9 709.3 417.1 709.3 419 713.4 415.3 716.3 413.4 719.3 412 720.4 415.3 723.7 413.4 731.4 412.3 734 420.4 737.3 420.4 731.4 424.4 729.6 427.8 684.2 429.3 691.2 429.3 700.4 429.3 569.3 431.4 211.6 110.4 197.2 115.5 215.8 117.4 186.4 122.6 209.4 122.6 188.3 133.4 190.5 133.4 198.9 133.4 201.3 129.7 205.6 129.7 207.5 135.1 203.4 140.5 213.6 143.9 220.1 138.6 224.4 131.5 228.6 131.5 253.8 129.7 251.6 142.4 279.4 143.9 218.2 154.4 222.3 154.4 226.4 152.6 232.6 156.3 237.3 159.6 249.5 156.3 256.1 161.3 262 158.3 264.4 158.3 266.4 158.3 268.6 156.3 260.3 166.9 270.5 166.9 277.2 163.2 281.1 159.6 283.5 159.6 285.4 154.4 287.6 149.3 289.8 152.6 291.7 159.6 293.9 150.7 298.3 145.5 302.5 147.4 304.4 156.3 300.4 165.1 306.7 166.9 308.6 152.6 311 140.5 312.9 133.4 315.1 135.1 317.3 142.4 319.2 140.5 184.4 156.3 182.2 163.2 177.6 173.7 180.1 177.3 194.7 177.3 192.6 196.6 230.5 175.6 235 177.3 239.2 184.4 241.3 173.7 243.5 173.7 245.6 177.3 247.6 177.3 275 184.4 272.7 191.4 323.5 124.3 330 124.3 327.6 138.6 321.3 142.4 332.2 145.5 334.2 135.1 336.4 135.1 342.6 135.1 340.4 138.6 338.3 143.9 325.5 159.6 351 170.3 355.4 166.9 353.2 187.7 357.3 189.5 361.4 180.9 363.5 177.3 346.6 208.7 365.5 119.3 372.3 124.3 374.2 128.1 376.4 126.2 378.5 124.3 367.7 133.4 369.9 142.4 380.5 133.4 382.6 135.1 384.5 120.9 386.9 117.4 391.3 119.3 393.2 122.6 395.4 113.8 399.3 145.5 403.8 137 405.7 135.1 410.3 137 412.5 131.5 418.5 138.6 408 154.4 416.4 150.7 422.7 154.4 420.5 161.3 414.4 184.4 426.8 126.2 429.1 135.1 433.3 143.9 435.5 119.3 437.4 131.5 441.5 133.4 431.3 165.1 443.9 159.6 446.1 156.3 448 163.2 450.2 145.5 452.5 152.6 454.7 152.6 456.2 145.5 458.5 145.5 460.7 150.7 462.9 140.5 465.1 145.5 467.3 147.4 469.2 128.1 473.5 137 475.5 133.4 477.6 131.5 479.5 129.7 481.5 142.4 484.2 131.5 486.1 131.5 488.3 143.9 492.4 156.3 490.2 200.2 494.5 112.2 496.6 128.1 498.8 128.1 501 138.6 502.9 138.6 505.1 131.5 507.3 113.8 509.4 128.1 511.4 137 513.5 119.3 515.5 115.6 521.8 126.2 524.2 113.8 528.5 113.8 530.4 126.2 532.6 117.4 534.5 113.8 538.8 119.3 543 108.5 549.3 128.1 551.4 115.6 557.9 117.4 560.1 126.2 564.2 129.7 562 142.4 566.4 126.2 570.5 124.3 597.7 120.9 599.9 120.9 602.1 119.3 604.4 120.9 606.2 128.1 610.7 138.6 612.9 140.5 614.6 135.1 617 122.6 619.2 113.8 640.2 110.4 648.5 113.8 625.4 124.3 638 124.3 642.4 128.1 644.3 126.2 659.2 124.3 673.9 124.3 650.5 135.1 654.8 140.5 661.4 142.4 663.5 145.5 665.5 140.5 629.5 147.4 633.6 149.3 646.2 147.4 652.6 147.4 667.4 150.7 669.6 152.6 671.7 152.6 675.8 161.3 677.9 145.5 680.1 143.9 682.4 142.4 686.5 145.5 690.7 147.4 695.2 120.9 703.5 145.5 699 156.3 697.1 161.3 688.6 166.9 692.9 166.9 707.4 168.6 705.5 173.7 711.7 173.7 701.2 189.5 709.5 198.3 714.2 154.4 716.4 152.6 718.3 133.4 720.4 124.3 722.4 120.9 724.3 135.1 728.4 124.3 726.7 152.6 731 143.9 733.2 145.5 735.2 175.6 737.3 180.9 739.5 182.5 631.5 184.4 635.6 200.2 213.3 265.4 201.3 267.3 195.6 269.1 189.4 272.4 202.4 274.3 179 279.5 198.1 283.1 213.6 283.1 283.3 260.4 287.1 283.1 295.3 277.8 299.3 279.5 296.3 283.1 303.2 281.2 305.5 277.8 313.4 279.5 316.2 283.1 318.6 283.1 317.6 274.3 319.2 271.1 341.5 265.4 324.4 269.1 323.2 274.3 331.1 272.4 334.7 272.4 343.4 271.1 345.6 272.4 332.6 277.8 334.2 279.5 340.2 279.5 323.2 283.1 346.6 283.1 349.1 281.2 365.5 269.1 364.9 271.1 365.2 274.3 368.5 279.5 367.1 283.1 384.5 263.5 390.8 262.3 386.4 269.1 386.4 283.1 405 277.8 424.2 260.4 442.3 276 449.3 271.1 468.3 276 468.9 281.2 524.8 235.4 526.3 241 516.5 242.5 507.9 246.3 500.4 253.2 496.5 256.7 515.4 253.1 514.5 255 511.1 256.7 514.3 258.5 519.4 255 522.4 256.7 529.1 249.7 531.6 251.5 537 251.5 533.2 255 529.1 255 528.5 256.7 529.7 258.5 525.6 260.3 535.6 258.5 539.5 258.5 536.5 262.1 530.9 262.1 528.5 263.7 526.1 263.7 527.5 265.7 524.5 265.7 521.4 263.6 522.2 267.4 519.8 269.3 518.2 269.3 527.3 269.3 524.5 272.4 526.9 272.4 532.4 267.4 534.8 267.4 535.6 269.3 539.5 265.7 540.5 267.4 540.5 269.3 535.6 274.4 500.4 262.1 504 262.1 506 262.1 508.2 263.7 495.3 265.7 498.5 265.7 511.1 267.4 515.4 265.7 504.4 269.3 495.3 272.4 497.3 271.6 499.2 271.2 509.5 271.2 512.7 271.2 474.3 269.3 479.3 274.4 539.8 239.2 542.3 241 542.3 247.9 544.3 247.9 541.9 253.1 542.7 256.6 544.3 256.6 541.9 260.2 542.3 262.1 543.5 272.4 543.5 274.4 506.4 277.8 510.3 279.4 499.2 279.4 485.6 279.4 472 279.4 522.2 278 526.5 278 536 278 538 279.4 577.6 230.4 588.5 230.4 579.8 233.7 579.4 235.4 583.3 235.4 578.2 237.2 580.6 237.2 589.3 237.2 583.7 241 555.3 240.8 554.5 244.4 556.5 244.4 546.2 237.2 546.6 239.2 546.2 244.4 576.5 244.4 568.3 246.3 572.7 247.9 575.8 247.9 553.3 251.5 570.3 251.5 576.5 251.5 575 253.1 579.4 253.1 589.3 251.5 590.8 249.5 596.4 249.5 598 247.9 596 253.1 596.8 255 592.4 256.6 596 258.5 550.9 256.6 557.6 258.5 554.1 260.3 564.4 260.3 567.9 256.6 572.3 255 576.6 256.6 573.1 258.5 571.5 260.3 573.8 260.3 576.6 260.3 574.6 262.1 557.2 263.6 560 263.6 553.3 265.5 546.2 262.1 547 265.5 571.5 265.5 574.2 267.4 574.2 269.3 559.2 269.3 558.4 271.2 560.6 272.4 566.3 271.2 564.4 274.4 569.5 274.4 598.3 267.4 599.5 263.6 601.5 263.6 601.1 271.2 616.5 262.1 617.7 263.6 619.3 263.6 616.5 267.4 619.7 251.5 619.7 269.3 474.6 281.3 489.4 283.3 527.3 281.3 639.9 244.4 625.4 246.2 627.1 249.8 626.3 251.4 625.7 256.4 638.7 256.4 624.4 262.3 624.4 267.3 626.6 272.4 641.2 272.4 651.6 271.1 651.6 272.4 679.3 263.5 680.1 263.5 679.4 271.1 686.1 271.1 720.5 271.1 723.4 271.1 622.4 304.3 624 307.8 652.2 284.9 654.5 297.2 656.4 297.2 677.7 297.2 677.7 299.3 677.7 302.4 677.7 304.3 677.7 306.2 675.3 309.1 679.3 309.1 654.5 300.5 654 304.3 653.2 306.2 656.4 307.8 652.4 309.1"/></g>
<g font-family="Liberation Serif" font-size="18" fill="#000" stroke="#000" stroke-width="0.3" opacity="0.999"><text x="158.5" y="565.5" text-anchor="end">0.0</text><text x="158.5" y="452.5" text-anchor="end">0.5</text><text x="158.5" y="339.5" text-anchor="end">1.0</text><text x="158.5" y="226.5" text-anchor="end">1.5</text><text x="158.5" y="113.5" text-anchor="end">2.0</text><text x="171.5" y="586" text-anchor="middle">0</text><text x="298.1" y="586" text-anchor="middle">5</text><text x="424.7" y="586" text-anchor="middle">10</text><text x="551.3" y="586" text-anchor="middle">15</text><text x="677.9" y="586" text-anchor="middle">20</text><text x="804.5" y="586" text-anchor="middle">25</text><text x="429" y="70.6" letter-spacing="1" xml:space="preserve">Record:  f163a</text><text x="439.5" y="636" letter-spacing="1">Time (hour)</text><text transform="translate(100.1,418.5) rotate(-90)" letter-spacing="1">RR Interval (second)</text></g>
</svg>
</body></html>
